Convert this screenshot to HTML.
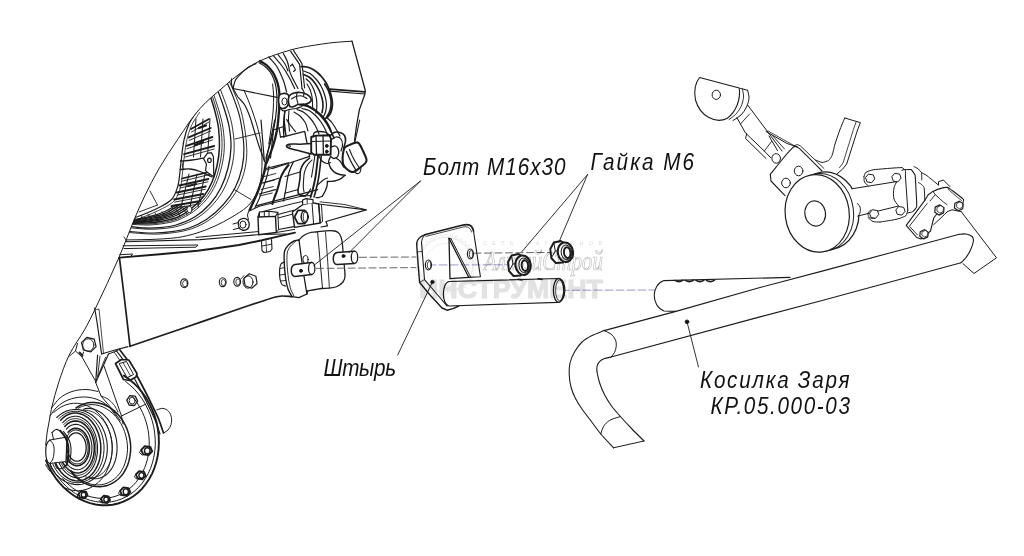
<!DOCTYPE html>
<html lang="ru">
<head>
<meta charset="utf-8">
<title>Косилка Заря КР.05.000-03</title>
<style>
html,body{margin:0;padding:0;background:#fff}
body{width:1024px;height:556px;overflow:hidden}
svg{display:block}
text{font-family:"Liberation Sans","DejaVu Sans",sans-serif}
</style>
</head>
<body>
<svg width="1024" height="556" viewBox="0 0 1024 556" stroke-linecap="round" stroke-linejoin="round">
<defs>
<clipPath id="lens"><path d="M352 41.2 C346.7 41.6 341.3 41.8 336 42.3 C331.2 42.8 326.4 43.3 321.6 44.1 C311.7 45.7 301.7 46.9 292 49.6 C280.7 52.7 269.5 56.5 258.8 61.4 C252 64.5 246.1 69.2 240 73.5 C234.9 77.1 230.2 81.1 225.5 85.2 C216.8 92.8 207.6 99.9 200 108.5 C191.8 117.7 185.3 128.2 178.4 138.4 C171.6 148.4 164.9 158.5 158.8 169 C153.7 177.8 149.1 186.9 144.7 196 C140.9 203.9 137.4 211.9 134 220 C128.9 232.3 124.5 244.8 119.2 257 C111.4 274.8 103.1 292.4 94.7 310 C91.6 316.4 88.5 322.8 85 329 C80 337.8 73.7 345.9 69.2 355 C64.8 364 61.6 373.5 58.5 383 C55.8 391.2 53.7 399.6 51.6 408 C50.7 411.6 50.3 415.3 49.6 419 L46 445 L46 520 L420 520 L420 30 Z"/></clipPath>
<clipPath id="hubclip"><path d="M44 380 L200 380 L200 520 L44 520 Z"/></clipPath>
<clipPath id="flange"><ellipse cx="99.5" cy="436" rx="58.6" ry="70" transform="rotate(-15 99.5 436)"/></clipPath>
</defs>
<rect x="0" y="0" width="1024" height="556" fill="#ffffff"/>
<path d="M352 41.2 C346.7 41.6 341.3 41.8 336 42.3 C331.2 42.8 326.4 43.3 321.6 44.1 C311.7 45.7 301.7 46.9 292 49.6 C280.7 52.7 269.5 56.5 258.8 61.4 C252 64.5 246.1 69.2 240 73.5 C234.9 77.1 230.2 81.1 225.5 85.2 C216.8 92.8 207.6 99.9 200 108.5 C191.8 117.7 185.3 128.2 178.4 138.4 C171.6 148.4 164.9 158.5 158.8 169 C153.7 177.8 149.1 186.9 144.7 196 C140.9 203.9 137.4 211.9 134 220 C128.9 232.3 124.5 244.8 119.2 257 C111.4 274.8 103.1 292.4 94.7 310 C91.6 316.4 88.5 322.8 85 329 C80 337.8 73.7 345.9 69.2 355 C64.8 364 61.6 373.5 58.5 383 C55.8 391.2 53.7 399.6 51.6 408 C50.7 411.6 50.3 415.3 49.6 419" fill="none" stroke="#1c1c1c" stroke-width="1" />
<g clip-path="url(#lens)">
<path d="M209 92 C211 98.5 213.3 105 215 111.6 C216.4 117 217.8 122.5 218.5 128 C219.3 134.5 219.7 141.1 219.4 147.6 C219.2 153.8 218.3 160 217 166 C215.8 171.5 214.2 176.9 212 182 C209.9 186.9 207.3 191.7 204 196 C200.6 200.5 196.4 204.4 192 208 C187.7 211.5 183.1 214.7 178 217 C173.3 219.1 168.1 220 163 221 C158.1 222 153 222.8 148 223 C142 223.3 136 222.7 130 222.5" fill="none" stroke="#1c1c1c" stroke-width="1.5" />
<path d="M210.5 90.7 C212.7 97.3 215 103.9 216.9 110.6 C218.5 116.2 220 121.8 220.8 127.6 C221.7 134.2 222.2 140.9 222 147.6 C221.7 153.9 220.8 160.3 219.4 166.4 C218.1 172.2 216.4 177.9 213.9 183.3 C211.6 188.4 208.8 193.4 205.3 197.8 C201.7 202.3 197.3 206.4 192.7 209.9 C188 213.5 182.9 216.5 177.6 218.8 C172.7 220.8 167.5 221.5 162.3 222.5 C157.4 223.3 152.4 224 147.3 224.1 C141.3 224.2 135.2 223.5 129.1 223.3" fill="none" stroke="#1c1c1c" stroke-width="0.9" />
<path d="M211.9 89.5 C214.2 96.2 216.7 102.9 218.7 109.7 C220.3 115.4 222 121.2 222.9 127.2 C223.9 133.9 224.5 140.8 224.3 147.6 C224.1 154.1 223.1 160.5 221.6 166.8 C220.2 172.9 218.3 178.9 215.7 184.5 C213.2 189.8 210.2 194.9 206.5 199.4 C202.7 204 198.2 208.2 193.3 211.7 C188.3 215.2 182.9 218.2 177.2 220.4 C172.2 222.2 166.9 223 161.7 223.8 C156.8 224.5 151.8 225.1 146.7 225.1 C140.6 225.1 134.5 224.3 128.3 224" fill="none" stroke="#1c1c1c" stroke-width="0.9" />
<path d="M216 86 C218.6 93 221.4 99.9 223.7 107 C225.7 113.3 227.8 119.5 229 126 C230.3 133.1 231.2 140.4 231 147.6 C230.8 154.5 229.7 161.3 228 168 C226.3 174.9 224 181.7 220.8 188 C217.9 193.8 214.3 199.2 210 204 C205.6 208.9 200.6 213.3 195 216.8 C189.1 220.4 182.6 223 176 225 C170.8 226.6 165.4 227.1 160 227.6 C155 228.1 150 228.2 145 228 C138.6 227.7 132.3 226.7 126 226" fill="none" stroke="#1c1c1c" stroke-width="1.3" />
<path d="M218.2 84 C220.9 91 223.8 97.8 226.2 104.9 C228.3 111.2 230.5 117.5 231.8 124 C233.2 131.8 234.3 139.7 234.2 147.6 C234.2 154.5 233.1 161.3 231.5 168 C229.8 174.9 227.5 181.7 224.4 188 C221.4 193.9 217.6 199.4 213.2 204.2 C208.7 209.3 203.6 213.9 197.8 217.5 C192.1 221.1 185.7 223.7 179.2 225.8 C174 227.4 168.5 228 163 228.6 C157.6 229.2 152.2 229.4 146.8 229.2 C139.6 229 132.6 227.9 125.5 227.2" fill="none" stroke="#1c1c1c" stroke-width="0.9" />
<path d="M225 78 C227.9 84.9 231.2 91.6 233.8 98.6 C236.2 105 238.6 111.4 240 118 C242 127.7 243.5 137.7 243.9 147.6 C244.2 154.4 243.5 161.3 242 168 C240.5 174.9 238.2 181.7 235 188 C231.8 194.2 227.7 199.9 223 205 C218.1 210.5 212.5 215.5 206.4 219.6 C201.1 223.2 195.1 225.9 189 228 C183.5 229.9 177.7 230.8 172 231.6 C165.4 232.5 158.7 233.1 152 233 C142.6 232.9 133.3 231.7 124 231" fill="none" stroke="#1c1c1c" stroke-width="1.2" />
<path d="M227 76.2 C230 83.1 233.3 89.8 236 96.8 C238.5 103.1 241 109.5 242.4 116.2 C244.6 126.6 246.2 137.1 246.7 147.6 C247.1 154.4 246.5 161.3 245.1 168 C243.6 174.9 241.4 181.7 238.1 188 C234.9 194.3 230.6 200 225.9 205.2 C220.8 210.8 215.1 215.9 208.9 220.2 C203.7 223.8 197.8 226.5 191.9 228.7 C186.3 230.6 180.5 231.7 174.6 232.5 C167.7 233.5 160.6 234.2 153.5 234.1 C143.5 234 133.6 232.8 123.6 232.1" fill="none" stroke="#1c1c1c" stroke-width="0.9" />
<path d="M243.9 90 C246.6 96.7 249.7 103.2 252 110 C254.9 118.5 257.9 127.1 259.7 136 C261.3 143.9 262 152 262 160 C262.1 168.4 261.7 176.8 260 185 C259 189.7 256.5 193.9 254 198 C252 201.3 249.7 204.5 246.8 207 C242.3 210.9 237.1 213.9 232 217 C226.5 220.3 220.8 223.3 215 226 C209.1 228.7 203.2 231.1 197 233 C190.7 235 184.2 236.6 177.6 237.5 C168.5 238.8 159.2 239.1 150 239.5 C140 239.9 130 239.8 120 240" fill="none" stroke="#1c1c1c" stroke-width="1" />
<path d="M235 139 L260 133" fill="none" stroke="#1c1c1c" stroke-width="0.9" />
<path d="M233.8 189.4 L251 199.5" fill="none" stroke="#1c1c1c" stroke-width="0.9" />
<path d="M197 111 C194.3 115.3 191.1 119.4 189 124 C186.7 129.1 185.2 134.5 184 140 C182.5 147.2 181.9 154.7 181 162 C180.4 166.7 180.1 171.3 179.5 176 C179 179.7 178.8 183.5 177.6 187 C176.2 191.2 174.9 195.7 172 199 C168.8 202.6 164.3 204.8 160 207 C152.7 210.8 145 213.9 137.3 216.8 C134.3 217.9 131.1 218.3 128 219" fill="none" stroke="#1c1c1c" stroke-width="1.2" />
<path d="M199.5 112.5 C196.8 116.8 193.6 120.9 191.5 125.5 C189.2 130.6 187.7 136 186.5 141.5 C185 148.7 184.4 156.2 183.5 163.5 C182.9 168.2 182.6 172.8 182 177.5 C181.5 181.2 181.3 185 180.1 188.5 C178.7 192.7 177.4 197.2 174.5 200.5 C171.3 204.1 166.8 206.3 162.5 208.5 C155.2 212.3 147.5 215.4 139.8 218.3 C136.8 219.4 133.6 219.8 130.5 220.5" fill="none" stroke="#1c1c1c" stroke-width="0.8" />
<path d="M180.5 161 C184.3 160.7 188.2 160.5 192 160 C195.8 159.5 199.5 158.8 203.3 158.2" fill="none" stroke="#1c1c1c" stroke-width="1.3" />
<path d="M180.2 169.5 C183.5 169.3 186.7 168.7 190 169 C193.4 169.3 196.8 170.3 200 171.5 C204.1 173 208 175.2 212 177" fill="none" stroke="#1c1c1c" stroke-width="1.3" />
<path d="M183.5 161.5 C183.1 162.8 182.3 164.1 182.3 165.5 C182.3 166.9 183.1 168.2 183.5 169.5" fill="none" stroke="#1c1c1c" stroke-width="1" />
<path d="M191 129 L209 119" fill="none" stroke="#1c1c1c" stroke-width="1.9" />
<path d="M191.5 132 L209 122" fill="none" stroke="#1c1c1c" stroke-width="0.9" />
<path d="M188.7 137.4 L210.7 128" fill="none" stroke="#1c1c1c" stroke-width="1.9" />
<path d="M189.2 140.4 L210.7 131" fill="none" stroke="#1c1c1c" stroke-width="0.9" />
<path d="M186.4 145.8 L212.4 137" fill="none" stroke="#1c1c1c" stroke-width="1.9" />
<path d="M186.9 148.8 L212.4 140" fill="none" stroke="#1c1c1c" stroke-width="0.9" />
<path d="M184.1 154.2 L214.1 146" fill="none" stroke="#1c1c1c" stroke-width="1.9" />
<path d="M184.6 157.2 L214.1 149" fill="none" stroke="#1c1c1c" stroke-width="0.9" />
<path d="M196 119 L193.5 157" fill="none" stroke="#1c1c1c" stroke-width="1" />
<path d="M203 119 L200.5 157" fill="none" stroke="#1c1c1c" stroke-width="1" />
<path d="M210 119 L207.5 157" fill="none" stroke="#1c1c1c" stroke-width="1" />
<path d="M199 128 L206 125.5" fill="none" stroke="#1c1c1c" stroke-width="2.2" />
<path d="M195 145 L203 142" fill="none" stroke="#1c1c1c" stroke-width="2.2" />
<path d="M182 178.5 L211 171.5" fill="none" stroke="#1c1c1c" stroke-width="1.8" />
<path d="M182.4 181.1 L210.5 174.3" fill="none" stroke="#1c1c1c" stroke-width="0.9" />
<path d="M179.4 185.5 L208.4 179" fill="none" stroke="#1c1c1c" stroke-width="1.8" />
<path d="M179.8 188.1 L207.9 181.8" fill="none" stroke="#1c1c1c" stroke-width="0.9" />
<path d="M176.8 192.5 L205.8 186.5" fill="none" stroke="#1c1c1c" stroke-width="1.8" />
<path d="M177.2 195.1 L205.3 189.3" fill="none" stroke="#1c1c1c" stroke-width="0.9" />
<path d="M174.2 199.5 L203.2 194" fill="none" stroke="#1c1c1c" stroke-width="1.8" />
<path d="M174.6 202.1 L202.7 196.8" fill="none" stroke="#1c1c1c" stroke-width="0.9" />
<path d="M171.6 206 L200.6 201" fill="none" stroke="#1c1c1c" stroke-width="1.8" />
<path d="M172 208.6 L200.1 203.8" fill="none" stroke="#1c1c1c" stroke-width="0.9" />
<path d="M189 174 L181 207" fill="none" stroke="#1c1c1c" stroke-width="1" />
<path d="M197 174 L190 207" fill="none" stroke="#1c1c1c" stroke-width="1" />
<path d="M205 174 L198 207" fill="none" stroke="#1c1c1c" stroke-width="1" />
<path d="M188 186 L196 184" fill="none" stroke="#1c1c1c" stroke-width="2.2" />
<path d="M176 205 C172.3 207.2 168.9 209.8 165 211.5 C160.2 213.6 155.1 215.2 150 216.5 C142.7 218.4 135.3 219.5 128 221" fill="none" stroke="#1c1c1c" stroke-width="1.3" />
<path d="M178.8 205.4 C174.9 207.7 171.3 210.5 167.2 212.3 C162.3 214.4 157.2 216 152 217.2 C144.2 219.1 136.3 220.1 128.4 221.6" fill="none" stroke="#1c1c1c" stroke-width="1.3" />
<path d="M181.6 205.8 C177.5 208.2 173.7 211.2 169.4 213.1 C164.5 215.3 159.2 216.7 154 217.9 C145.7 219.8 137.2 220.8 128.8 222.2" fill="none" stroke="#1c1c1c" stroke-width="1.3" />
<path d="M184.4 206.2 C180.1 208.8 176.2 211.9 171.6 213.9 C166.6 216.1 161.3 217.5 156 218.6 C147.2 220.5 138.1 221.4 129.2 222.8" fill="none" stroke="#1c1c1c" stroke-width="1.3" />
<path d="M187.2 206.6 C182.7 209.3 178.6 212.6 173.8 214.7 C168.8 216.9 163.4 218.2 158 219.3 C148.6 221.1 139.1 222 129.6 223.4" fill="none" stroke="#1c1c1c" stroke-width="1.3" />
<path d="M190 207 C185.3 209.8 181 213.3 176 215.5 C170.9 217.7 165.4 219 160 220 C150.1 221.8 140 222.7 130 224" fill="none" stroke="#1c1c1c" stroke-width="1.3" />
<path d="M134 216.5 L138 223" fill="none" stroke="#1c1c1c" stroke-width="0.9" />
<path d="M141 215.3 L145 221.8" fill="none" stroke="#1c1c1c" stroke-width="0.9" />
<path d="M148 214.1 L152 220.6" fill="none" stroke="#1c1c1c" stroke-width="0.9" />
<path d="M155 212.9 L159 219.4" fill="none" stroke="#1c1c1c" stroke-width="0.9" />
<path d="M162 211.7 L166 218.2" fill="none" stroke="#1c1c1c" stroke-width="0.9" />
<path d="M169 210.6 L173 217.1" fill="none" stroke="#1c1c1c" stroke-width="0.9" />
<path d="M176 209.4 L180 215.9" fill="none" stroke="#1c1c1c" stroke-width="0.9" />
<path d="M183 208.2 L187 214.7" fill="none" stroke="#1c1c1c" stroke-width="0.9" />
<path d="M150 191 L157.5 205" fill="none" stroke="#1c1c1c" stroke-width="0.9" />
<path d="M157.5 205 L139 212" fill="none" stroke="#1c1c1c" stroke-width="0.9" />
</g>
<path d="M203.5 158.6 L207.3 153.4 L211.3 152.6 L213.4 156.5 L213.8 176.8 L209 173.6 L205.5 170.6 L206.5 164Z" fill="#fff" stroke="#1c1c1c" stroke-width="1.2" />
<ellipse cx="209.4" cy="160.3" rx="1.8" ry="2.2" fill="none" stroke="#1c1c1c" stroke-width="1.2" />
<ellipse cx="189.5" cy="209.5" rx="2.6" ry="3.2" fill="#fff" stroke="#1c1c1c" stroke-width="1" />
<path d="M352 41.2 L365.3 90.5 L364.6 95 L359.4 109.6 L356.5 126 L354.5 141" fill="none" stroke="#1c1c1c" stroke-width="1.3" />
<path d="M329.5 89.2 L365 91.8" fill="none" stroke="#1c1c1c" stroke-width="1.7" />
<path d="M329.8 91.2 L364.8 94" fill="none" stroke="#1c1c1c" stroke-width="1.2" />
<path d="M290.7 51.3 L299.6 64.3 L302 88.5" fill="none" stroke="#1c1c1c" stroke-width="1.2" />
<path d="M293.5 50.4 L302 63.6 L304.6 88" fill="none" stroke="#1c1c1c" stroke-width="1.1" />
<path d="M301.2 66.7 C303.1 66.8 305.1 66.5 307 67 C309.5 67.6 311.9 68.6 314 70 C316.4 71.5 318.5 73.5 320.5 75.5 C322.4 77.5 324 79.7 325.5 82 C326.9 84.2 328 86.6 329 89 C329.8 90.9 330.5 93 331 95 C331.6 97.3 332.1 99.6 332.3 102 C332.5 104 332.3 106 332 108 C331.7 109.9 331.2 111.8 330.3 113.5 C329.5 115.1 328.1 116.3 327 117.7" fill="none" stroke="#1c1c1c" stroke-width="1.8" />
<path d="M303.6 71 C305.7 71.8 308.1 72.3 310 73.5 C312.3 75 314.2 76.9 316 79 C318.1 81.5 320 84.1 321.5 87 C323 89.8 324.1 92.9 325 96 C325.8 98.8 326.4 101.8 326.5 104.7 C326.6 107.2 326.1 109.6 325.5 112 C325.1 113.6 324.2 115 323.5 116.5" fill="none" stroke="#1c1c1c" stroke-width="1.2" />
<path d="M303.6 74.5 C305.4 75.3 307.4 75.8 309 77 C311.1 78.5 312.9 80.4 314.5 82.5 C316.3 84.8 317.7 87.4 319 90 C320.2 92.6 321.3 95.2 322 98 C322.7 100.6 323 103.3 323 106 C323 108.3 322.3 110.5 322 112.8" fill="none" stroke="#1c1c1c" stroke-width="1.6" />
<path d="M306 78.8 C307.3 80 308.9 81 310 82.5 C311.6 84.8 313 87.4 314 90 C315.1 92.9 316 95.9 316.5 99 C317 102 316.9 105 316.8 108 C316.7 109.7 316.1 111.3 315.8 113" fill="none" stroke="#1c1c1c" stroke-width="1.2" />
<path d="M307 84 C308 85.8 309.3 87.5 310 89.5 C311 92.2 311.8 95.1 312.2 98 C312.6 101 312.5 104 312.6 107" fill="none" stroke="#1c1c1c" stroke-width="1.1" />
<path d="M231.6 78.8 C231.6 80.5 231.3 82.3 231.5 84 C231.7 85.6 232.5 87 233 88.5" fill="none" stroke="#1c1c1c" stroke-width="1.2" />
<path d="M233 88.5 C233.8 85.7 234.1 82.6 235.5 80 C236.7 77.7 238.7 75.9 240.5 74 C242.2 72.2 244 70.5 246 69 C247.6 67.8 249.3 66.8 251 65.9 C252.6 65 254.3 64.4 256 63.6" fill="none" stroke="#1c1c1c" stroke-width="1.2" />
<path d="M233 88.5 L277 97.4" fill="none" stroke="#1c1c1c" stroke-width="1.2" />
<path d="M259 62.7 C261 64 263.2 65 265 66.5 C267.1 68.2 269 70.2 270.5 72.4 C272 74.6 273.1 77 274 79.5 C274.9 81.9 275.6 84.5 276 87 C276.6 90.2 276.7 93.4 277 96.6" fill="none" stroke="#1c1c1c" stroke-width="1.2" />
<path d="M233 88.5 C234.7 91.3 236.1 94.3 238 97 C240 99.7 242.9 101.8 244.6 104.7 C246.9 108.5 248.4 112.8 250 117 C251.6 121.2 252.7 125.7 254 130 C255.7 135.3 257.2 140.7 259 146 C260.8 151.4 262.9 156.7 264.8 162" fill="none" stroke="#1c1c1c" stroke-width="1.2" />
<path d="M260 61 C262.3 62.5 264.9 63.7 267 65.5 C269.3 67.5 271.2 69.9 272.9 72.4 C274.4 74.7 275.5 77.4 276.5 80 C277.4 82.3 278 84.6 278.5 87 C279.1 90 279.4 93 279.6 96 C279.7 98.9 279.6 101.8 279.4 104.7 C279.2 108.8 278.9 112.9 278.5 117 C278.1 121.3 277.8 125.7 277 130 C276 135.4 274.7 140.8 273 146 C271.2 151.8 268.7 157.3 266.5 163" fill="none" stroke="#1c1c1c" stroke-width="2.3" />
<path d="M277 97.4 C276.9 100.9 276.9 104.5 276.6 108 C276.2 112.7 275.7 117.4 275 122 C274.2 127 273.2 132.1 272 137 C270.2 144.1 268 151 266 158" fill="none" stroke="#1c1c1c" stroke-width="1.2" />
<path d="M268.8 57 C271.4 60 274.4 62.6 276.5 66 C279.3 70.5 281.4 75.5 283.4 80.5 C284.8 84.1 285.5 88 286.6 91.8" fill="none" stroke="#1c1c1c" stroke-width="1.2" />
<path d="M273.7 56.2 C276.5 59.5 279.5 62.6 282 66 C284.6 69.5 286.9 73.2 289 77 C291.1 80.7 292.8 84.7 294.7 88.5" fill="none" stroke="#1c1c1c" stroke-width="1.2" />
<path d="M283.4 53.4 C284.8 56.3 286.5 59 287.5 62 C288.7 65.4 288.8 69 290 72.4 C291 75.4 292.6 78.2 294 81 C295.3 83.5 296.7 86 298 88.5" fill="none" stroke="#1c1c1c" stroke-width="1.2" />
<path d="M278 54.6 C280.3 57.7 283 60.7 285 64 C286.3 66.2 287 68.7 288 71" fill="none" stroke="#1c1c1c" stroke-width="1.1" />
<path d="M290.5 66 L292.5 64 L295.5 70 L293.5 71.5" fill="none" stroke="#1c1c1c" stroke-width="1.1" />
<path d="M279 96 C279.4 94.5 281.4 93.8 283 93.5 C284.7 93.2 286.8 93.3 288 94.5 C289.3 95.9 289.1 98.1 289 100 C288.9 102.1 288.7 104.3 287.5 106 C286.5 107.4 284.7 108.4 283 108.5 C281.7 108.6 279.9 107.8 279.5 106.5 C278.4 103.2 278.1 99.4 279 96Z" fill="#fff" stroke="#1c1c1c" stroke-width="1.6" />
<ellipse cx="284.5" cy="101.5" rx="2.6" ry="3.6" fill="none" stroke="#1c1c1c" stroke-width="1" />
<path d="M289 96.5 C289.8 94.6 292.1 93.6 294 93 C296.2 92.3 298.7 92.3 301 92.5 C302.7 92.6 304.4 93.2 306 94 C307.5 94.7 309 95.6 310 97 C310.8 98.1 311.7 99.8 311 101 C310 102.7 307.9 103.5 306 104 C303.4 104.7 300.6 103.9 298 104.5 C295.9 105 294.2 106.9 292 107 C290.8 107.1 289.3 106.2 289 105 C288.2 102.3 287.9 99.1 289 96.5Z" fill="#fff" stroke="#1c1c1c" stroke-width="1.6" />
<path d="M291.5 99 C293 98.2 294.4 97 296 96.5 C297.9 95.9 300 95.6 302 96 C303.8 96.3 305.3 97.7 307 98.5" fill="none" stroke="#1c1c1c" stroke-width="1.1" />
<path d="M297 92.8 C296.8 94.2 296.4 95.6 296.5 97 C296.7 99.5 297.5 101.9 298 104.3" fill="none" stroke="#1c1c1c" stroke-width="1.1" />
<path d="M302 88.5 C302.7 89.7 303.7 90.7 304 92 C304.3 93.3 303.7 94.7 303.5 96" fill="none" stroke="#1c1c1c" stroke-width="1.1" />
<path d="M306 104 C307.3 105 308.5 106.2 310 107 C311.2 107.7 312.7 108 314 108.5" fill="none" stroke="#1c1c1c" stroke-width="1.2" />
<path d="M280 108.5 C281.3 109.3 282.4 110.8 284 111 C285.7 111.2 287.3 109.9 289 109.5 C291.3 109 293.7 109 296 108.5 C298.1 108 300 107.2 302 106.5" fill="none" stroke="#1c1c1c" stroke-width="1.2" />
<path d="M285 111 C284.6 114 284.1 117 283.8 120 C283.5 123.3 283.4 126.7 283.4 130 C283.4 132.5 283.8 135 284 137.5" fill="none" stroke="#1c1c1c" stroke-width="1.2" />
<path d="M289 110.5 C288.8 113.7 288.4 116.8 288.5 120 C288.6 123.7 289.2 127.3 289.5 131" fill="none" stroke="#1c1c1c" stroke-width="1.1" />
<path d="M299.6 104.7 C302.4 105.3 305.4 105.4 308 106.5 C310.9 107.7 313.5 109.5 316 111.5 C318.4 113.4 320.5 115.7 322.5 118 C324.2 119.9 325.7 121.9 327 124 C328.5 126.4 329.7 129 331 131.5 C332.1 133.6 333 135.8 334 138" fill="none" stroke="#1c1c1c" stroke-width="1.6" />
<path d="M302 108.5 C304.3 109.2 306.8 109.4 309 110.5 C311.4 111.8 313.5 113.6 315.5 115.5 C317.5 117.5 319.4 119.7 321 122 C322.7 124.5 324.2 127.2 325.5 130 C326.7 132.6 327.6 135.3 328.6 138" fill="none" stroke="#1c1c1c" stroke-width="1.2" />
<path d="M297 109.5 C299.3 110.5 301.9 111.1 304 112.5 C306.3 114 308.2 116 310 118 C311.9 120.2 313.6 122.5 315 125 C316.6 127.9 317.7 131 319 134" fill="none" stroke="#1c1c1c" stroke-width="1.2" />
<path d="M294 112 C296 113.3 298.3 114.3 300 116 C302.1 118.1 304.1 120.4 305.5 123 C306.8 125.5 307.2 128.3 308 131" fill="none" stroke="#1c1c1c" stroke-width="1.1" />
<path d="M327 117.7 C328.5 119.1 330.2 120.4 331.5 122 C333.2 124.2 334.6 126.6 336 129 C337.4 131.3 338.7 133.7 340 136" fill="none" stroke="#1c1c1c" stroke-width="1.2" />
<path d="M261 120 L264.3 160.5" fill="none" stroke="#1c1c1c" stroke-width="1.2" />
<path d="M274.8 120 L265.9 161" fill="none" stroke="#1c1c1c" stroke-width="1.2" />
<path d="M280.5 137 L286 136.2 L304.7 131.3 L309.6 156.4 L288 163.5 L272.4 168.5" fill="none" stroke="#1c1c1c" stroke-width="1.3" />
<path d="M280.5 137 L279 128 L284 126.5 L286 136.2" fill="none" stroke="#1c1c1c" stroke-width="1.2" />
<path d="M279 128 L273.5 130 L270.5 158" fill="none" stroke="#1c1c1c" stroke-width="1.2" />
<path d="M311.2 143.6 C307.5 143.8 303.7 144.1 300 144.2 C296.3 144.3 292.6 143.7 289 144.2 C287.9 144.4 286.4 145.1 286.4 146.2 C286.4 147.3 288 147.8 289 148.2 C292.6 149.5 296.3 150 300 151 C303.7 152 307.5 153 311.2 154" fill="#fff" stroke="#1c1c1c" stroke-width="1.5" />
<ellipse cx="289" cy="146.2" rx="1.3" ry="1.3" fill="none" stroke="#1c1c1c" stroke-width="0.9" />
<path d="M311.2 137 L316 135.6 L329.5 135.2 L331 139 L330.6 154.8 L314 154.8 L311.2 152.5Z" fill="#fff" stroke="#1c1c1c" stroke-width="1.9" />
<path d="M316 135.6 L316.5 154.5" fill="none" stroke="#1c1c1c" stroke-width="1.3" />
<path d="M323 135.4 L323.4 154.6" fill="none" stroke="#1c1c1c" stroke-width="1.3" />
<path d="M311.5 141.5 L330.6 141" fill="none" stroke="#1c1c1c" stroke-width="1.2" />
<ellipse cx="326.8" cy="145.9" rx="1.3" ry="1.6" fill="#111" stroke="#1c1c1c" stroke-width="1" />
<ellipse cx="326.8" cy="151.6" rx="1.3" ry="1.6" fill="#111" stroke="#1c1c1c" stroke-width="1" />
<path d="M313 137 C313.5 135.5 313.3 133.5 314.5 132.5 C316 131.3 318.1 131.5 320 131.5 C322 131.5 324.1 131.8 326 132.5 C327.4 133 328.3 134.3 329.5 135.2" fill="none" stroke="#1c1c1c" stroke-width="1.3" />
<path d="M330 136 C331.3 134.8 332.3 133.1 334 132.5 C335.9 131.8 338.1 132 340 132.5 C341.7 133 343.5 134 344.5 135.5 C345.5 137.1 345.6 139.1 345.5 141 C345.3 143.5 344.2 145.9 343.6 148.3" fill="none" stroke="#1c1c1c" stroke-width="1.6" />
<path d="M331 140 C332.7 139 334.1 137.2 336 137 C337.8 136.8 339.9 137.6 341 139 C342.3 140.6 342.5 142.9 342.5 145 C342.5 147.1 341.5 149 341 151" fill="none" stroke="#1c1c1c" stroke-width="1.2" />
<path d="M331 147 C332.5 146.7 334.1 145.4 335.5 146 C337 146.6 338.1 148.4 338.5 150 C339 151.9 338.9 154.2 338 156 C337.3 157.4 335.6 158.4 334 158.5 C332.7 158.6 331.7 157.2 330.6 156.5" fill="none" stroke="#1c1c1c" stroke-width="1.3" />
<path d="M336 158 C337.3 159 338.9 159.7 340 161 C341.5 162.8 342.4 165 343.6 167" fill="none" stroke="#1c1c1c" stroke-width="1.2" />
<path d="M343.6 150.5 C343.9 149.4 344.1 148 345 147.3 C346.7 145.9 348.9 145.2 351 144.3 C352.8 143.5 354.6 142.5 356.5 142.4 C357.5 142.3 358.7 143 359.3 143.8 C360.9 146 361.9 148.6 363 151 C364.2 153.6 365.7 156.2 366.4 159 C366.7 160.2 366.5 161.5 365.8 162.5 C364.4 164.4 362.3 165.7 360.5 167.2 C358.6 168.7 356.7 170.4 354.5 171.5 C353.4 172 352.1 172.2 351 171.8 C349.3 171.2 347.8 170 346.5 168.8 C345.3 167.7 344 166.5 343.4 165 C342.6 162.8 342.6 160.3 342.6 158 C342.6 155.5 343 153 343.6 150.5Z" fill="#fff" stroke="#1c1c1c" stroke-width="2.1" />
<path d="M346.5 151.5 C347.3 153.3 348 155.2 348.8 157 C349.8 159.2 350.9 161.4 352 163.5 C353.1 165.5 354.3 167.5 355.5 169.5" fill="none" stroke="#1c1c1c" stroke-width="1.3" />
<path d="M349.5 149.5 C350.3 151.5 351.1 153.5 352 155.5 C353.1 157.7 354.2 159.9 355.5 162 C356.6 163.8 357.8 165.5 359 167.2" fill="none" stroke="#1c1c1c" stroke-width="1.1" />
<path d="M355 171.8 C355.7 172.4 356.1 173.5 357 173.6 C358.1 173.7 359.4 173.1 360 172.2 C360.8 171 360.7 169.4 361 168" fill="none" stroke="#1c1c1c" stroke-width="1.1" />
<path d="M359.7 120 L354.9 141.8" fill="none" stroke="#1c1c1c" stroke-width="1.1" />
<path d="M330.6 168 C331.7 169.3 332.6 170.8 334 171.8 C335.5 172.9 337.2 173.7 339 174.3 C340.9 174.9 343 175 345 175.3" fill="none" stroke="#1c1c1c" stroke-width="1.5" />
<path d="M345 175.3 C343.7 176.4 342.5 177.7 341 178.6 C339.5 179.5 337.7 180.1 336 180.6 C334.4 181.1 332.7 181.2 331 181.4 C329.8 181.5 328.6 181.5 327.4 181.5" fill="none" stroke="#1c1c1c" stroke-width="1.3" />
<path d="M327.4 181.5 C327.3 183 327.3 184.5 327 186 C326.6 187.7 325.9 189.4 325.2 191 C324.4 192.7 323.4 194.3 322.5 196" fill="none" stroke="#1c1c1c" stroke-width="1.3" />
<path d="M317.7 184.7 C318.8 183.8 319.9 182.9 321 182 C322 181.2 322.9 180.2 324 179.5 C325.1 178.8 326.3 178.5 327.4 178" fill="none" stroke="#1c1c1c" stroke-width="1.2" />
<path d="M322.5 196 C321.5 196.4 320.6 197 319.5 197.3 C318.4 197.6 317.2 197.6 316 197.7" fill="none" stroke="#1c1c1c" stroke-width="1.2" />
<path d="M330.6 156.5 C329.9 158.3 328.6 160 328.6 162 C328.6 164.1 329.9 166 330.6 168" fill="none" stroke="#1c1c1c" stroke-width="1.3" />
<path d="M319 156 C320 157.7 320.6 159.7 322 161 C323.4 162.3 325.2 163.2 327 163.5 C328.2 163.7 329.3 162.8 330.5 162.5" fill="none" stroke="#1c1c1c" stroke-width="1.2" />
<path d="M318.2 155 C317.8 158.3 317.4 161.7 317 165 C316.5 169.3 316.1 173.7 315.3 178 C314.6 182 313.6 186 312.6 190 C312 192.4 311.3 194.7 310.6 197" fill="none" stroke="#1c1c1c" stroke-width="1.9" />
<path d="M321.2 156 C320.9 159.3 320.6 162.7 320.2 166 C319.7 170.3 319.2 174.7 318.4 179 C317.8 182.7 316.9 186.4 316 190 C315.4 192.4 314.7 194.7 314 197" fill="none" stroke="#1c1c1c" stroke-width="1.6" />
<path d="M315 155 C314.5 158.3 314 161.7 313.5 165 C312.9 169 312.2 173 311.5 177" fill="none" stroke="#1c1c1c" stroke-width="1.1" />
<path d="M288.5 165 C287 167 285.3 168.9 284 171 C282.6 173.2 281.4 175.6 280.5 178 C279.7 180.2 279.4 182.5 278.8 184.7 C278.1 187.1 277.4 189.6 276.6 192 C275.9 194 275 196 274.3 198 C273.6 200 273 202 272.4 204" fill="none" stroke="#1c1c1c" stroke-width="2.1" />
<path d="M293.4 162 C292.4 164 291.3 165.9 290.5 168 C289.6 170.3 288.8 172.6 288.2 175 C287.6 177.1 287.4 179.3 287 181.5 C286.5 184.3 286.2 187.2 285.7 190 C285.4 192 284.9 194 284.5 196 C284.2 197.7 284 199.3 283.7 201" fill="none" stroke="#1c1c1c" stroke-width="1.2" />
<path d="M309.6 158 C307.7 159.7 305.5 161 304 163 C302.4 165.1 301.3 167.5 300.6 170 C299.9 172.6 300.3 175.3 300 178 C299.8 180.3 299.4 182.7 299 185 C298.7 187 297.9 189 298 191 C298 192.2 298.3 193.8 299.3 194.5 C300.8 195.6 302.9 195.5 304.7 196" fill="none" stroke="#1c1c1c" stroke-width="1.6" />
<path d="M312 160 C310.5 161.7 308.7 163.1 307.5 165 C306.2 167.2 305.1 169.5 304.5 172 C303.8 174.6 303.8 177.3 303.6 180 C303.4 182.3 303.2 184.7 303.3 187 C303.4 188.7 303.8 190.3 304 192" fill="none" stroke="#1c1c1c" stroke-width="1.1" />
<path d="M304.7 196 C305.8 195.2 307.1 194.6 308 193.5 C309.1 192.2 309.7 190.5 310.5 189" fill="none" stroke="#1c1c1c" stroke-width="1.2" />
<path d="M265.9 163 C265.4 166 265 169 264.3 172 C263.6 175.1 262.5 178 261.5 181 C260.6 183.7 259.8 186.4 258.8 189 C257.9 191.4 257 193.7 256 196 C254.9 198.5 253.7 201 252.6 203.5 C251.6 205.7 250.7 207.8 249.7 210" fill="none" stroke="#1c1c1c" stroke-width="2.4" />
<path d="M269 166 C268.3 169.3 267.9 172.7 267 176 C266 179.7 264.7 183.4 263.5 187 C262.2 190.7 261 194.4 259.5 198 C258.2 201.2 256.5 204.3 255 207.5" fill="none" stroke="#1c1c1c" stroke-width="1.1" />
<path d="M265.9 168.5 L288.5 162.8" fill="none" stroke="#1c1c1c" stroke-width="1.2" />
<path d="M262.7 183 L278.8 178.2" fill="none" stroke="#1c1c1c" stroke-width="1.2" />
<path d="M285 176.5 L300 172" fill="none" stroke="#1c1c1c" stroke-width="1.1" />
<path d="M256 205.8 L272 201.6 L298 194.8 L317.7 189.6" fill="none" stroke="#1c1c1c" stroke-width="1.2" />
<path d="M259.3 194 L275.5 189.6" fill="none" stroke="#1c1c1c" stroke-width="1.1" />
<path d="M284.8 193.2 L298.3 189.5" fill="none" stroke="#1c1c1c" stroke-width="1.1" />
<path d="M126 241.8 L200 239.6 L232 237 L260 234.5 L286.5 234" fill="none" stroke="#1c1c1c" stroke-width="1.1" />
<path d="M196 237.4 L225 234.6 L258 231.6" fill="none" stroke="#1c1c1c" stroke-width="1" />
<path d="M276.3 232.5 L294.6 229.4" fill="none" stroke="#1c1c1c" stroke-width="1" />
<path d="M123 245.8 L198 245 L196 247.2 L124 248.6" fill="none" stroke="#1c1c1c" stroke-width="1" />
<path d="M119.7 254.7 L132.6 254 L131 256.3" fill="none" stroke="#1c1c1c" stroke-width="1" />
<path d="M124 237 L127 241.5" fill="none" stroke="#1c1c1c" stroke-width="0.9" />
<path d="M238.5 221.5 C238.8 220.4 239.9 219.5 241 219 C242.4 218.4 244.1 218.1 245.5 218.6 C246.8 219 248 220.2 248.6 221.5 C249.3 223 249.4 224.9 249 226.5 C248.7 227.8 247.7 229 246.5 229.6 C245.2 230.3 243.5 230.4 242 230 C240.7 229.6 239.5 228.7 239 227.5 C238.2 225.6 238 223.5 238.5 221.5Z" fill="#fff" stroke="#1c1c1c" stroke-width="1.3" />
<ellipse cx="243" cy="224.6" rx="3" ry="3.6" fill="none" stroke="#1c1c1c" stroke-width="1" />
<path d="M233 224 L238.5 222.5" fill="none" stroke="#1c1c1c" stroke-width="1" />
<path d="M233.5 229.5 L239.5 228" fill="none" stroke="#1c1c1c" stroke-width="1" />
<path d="M249 211 C248.5 212.3 247.6 213.6 247.5 215 C247.4 216.5 248.2 218 248.5 219.5" fill="none" stroke="#1c1c1c" stroke-width="1" />
<path d="M249 211 L260 206 L300 196.5 L310 195.5" fill="none" stroke="#1c1c1c" stroke-width="1.1" />
<path d="M258 217 L275.5 216.4 L276.3 232.5 L258.7 234.7Z" fill="#fff" stroke="#1c1c1c" stroke-width="1.4" />
<path d="M258 217 L259.4 212 L269 211.2 L277.8 212.4 L275.5 216.4" fill="none" stroke="#1c1c1c" stroke-width="1.1" />
<path d="M277.8 212.4 L278.6 229.5 L276.3 232.5" fill="none" stroke="#1c1c1c" stroke-width="1" />
<path d="M259.6 212 L259.4 216.8" fill="none" stroke="#1c1c1c" stroke-width="1" />
<path d="M264.3 211.6 L264.3 216.6" fill="none" stroke="#1c1c1c" stroke-width="1" />
<path d="M269 211.2 L269 216.5" fill="none" stroke="#1c1c1c" stroke-width="1" />
<path d="M277.8 214.5 L293.8 210.2" fill="none" stroke="#1c1c1c" stroke-width="1.1" />
<path d="M278.2 218 L293 214" fill="none" stroke="#1c1c1c" stroke-width="1" />
<path d="M278.6 229.5 L293.8 226.6" fill="none" stroke="#1c1c1c" stroke-width="1.1" />
<path d="M262 211.8 L293 203.6 L303 201.4" fill="none" stroke="#1c1c1c" stroke-width="1" />
<path d="M292.4 212 L294.6 227.4 L320.2 223 L318.7 204 L312 202.6 L303 204.5Z" fill="#fff" stroke="#1c1c1c" stroke-width="1.4" />
<path d="M308.3 217 L304.8 223.7 L297.9 223.7 L294.5 217 L297.9 210.3 L304.8 210.3Z" fill="#fff" stroke="#1c1c1c" stroke-width="1.7" />
<ellipse cx="304.6" cy="216.8" rx="3.4" ry="5.8" fill="#fff" stroke="#1c1c1c" stroke-width="1.4" />
<ellipse cx="305.4" cy="216.8" rx="2.2" ry="4.6" fill="none" stroke="#1c1c1c" stroke-width="0.9" />
<path d="M312 202.6 L313.6 224" fill="none" stroke="#1c1c1c" stroke-width="1" />
<path d="M302.6 204.4 L302.6 200 L306 198.6 L313 199.6 L313 203" fill="#fff" stroke="#1c1c1c" stroke-width="1.2" />
<path d="M307.2 199 L307.2 203.6" fill="none" stroke="#1c1c1c" stroke-width="0.9" />
<path d="M318.7 204 L320.2 223 L322.5 221.6 L321.5 205" fill="none" stroke="#1c1c1c" stroke-width="1" />
<path d="M318.7 204 L366.3 209.8 L326 221.5 L327.5 225.9 L321 227" fill="none" stroke="#1c1c1c" stroke-width="1.2" />
<path d="M366.3 209.8 L345 204.6 L320 201.8" fill="none" stroke="#1c1c1c" stroke-width="0.9" />
<path d="M119.4 257.6 L160 254.2 L197.4 250.7 L220 247.8 L239 245 L262 240.3 L283 235.4 L295 232.6" fill="none" stroke="#1c1c1c" stroke-width="1.9" />
<path d="M119.4 257.6 L124 295 L128 329 L130 346.3" fill="none" stroke="#1c1c1c" stroke-width="1.7" />
<path d="M130 346.3 C140 342.9 170 332.7 180 329.3 C190 325.9 220 315.4 230 312 C236.4 309.8 255.6 303.3 262 301.2 C264.5 300.4 272 297.9 274.5 297.2 C276 296.8 280.5 296.1 282 296 C284 295.9 290 296.5 292 296.6" fill="none" stroke="#1c1c1c" stroke-width="1.7" />
<ellipse cx="184.3" cy="283.3" rx="3.6" ry="4.4" fill="none" stroke="#1c1c1c" stroke-width="1.1" />
<ellipse cx="185" cy="283.6" rx="2.4" ry="3.2" fill="none" stroke="#1c1c1c" stroke-width="0.8" />
<ellipse cx="222.7" cy="282.2" rx="3.4" ry="4.4" fill="none" stroke="#1c1c1c" stroke-width="1.1" />
<ellipse cx="223.4" cy="282.5" rx="2.2" ry="3.1" fill="none" stroke="#1c1c1c" stroke-width="0.8" />
<ellipse cx="237.2" cy="281.8" rx="3.4" ry="4.4" fill="none" stroke="#1c1c1c" stroke-width="1.1" />
<ellipse cx="238" cy="282" rx="2.2" ry="3.1" fill="none" stroke="#1c1c1c" stroke-width="0.8" />
<path d="M257.1 283.5 L251.7 288.2 L245.1 285.7 L243.9 278.5 L249.3 273.8 L255.9 276.3Z" fill="#fff" stroke="#1c1c1c" stroke-width="1.2" />
<ellipse cx="248" cy="282" rx="5" ry="6.2" fill="none" stroke="#1c1c1c" stroke-width="1" />
<path d="M241.5 278.5 L244 275.5" fill="none" stroke="#1c1c1c" stroke-width="0.9" />
<path d="M261.5 241 L262 250.5 L264 252.5 L270 251.5 L272 249 L271.5 239.5" fill="none" stroke="#1c1c1c" stroke-width="1.1" />
<path d="M262 246 L271.6 244.2" fill="none" stroke="#1c1c1c" stroke-width="0.9" />
<path d="M266 241 L266.5 252" fill="none" stroke="#1c1c1c" stroke-width="0.8" />
<path d="M315.7 232 C318.1 231.7 323.6 230.9 326 230.8 C328.1 230.7 333 230.5 335 231 C336.2 231.3 338.8 233 339.5 234 C340.5 235.4 341.7 239.3 342 241 C342.7 244.9 343.2 254 343.5 258 C343.9 262.2 345.1 271.8 345 276 C345 277.5 343.9 280.8 343 282 C341.9 283.4 338.6 285.8 337 286.5 C335.3 287.3 330.9 288 329 288.2 C327.3 288.4 323.2 288.3 321.5 288.5 C318.1 288.9 310.4 290.4 307 291" fill="none" stroke="#1c1c1c" stroke-width="1.3" />
<path d="M317.6 232 L320 260 L322.5 288.3" fill="none" stroke="#1c1c1c" stroke-width="1" />
<path d="M325.5 232 L327.6 260 L329.4 288" fill="none" stroke="#1c1c1c" stroke-width="0.9" />
<path d="M299 240 C297.7 240.3 295.2 240.4 294 241 C292.4 241.8 289.7 243.7 288.5 245 C287.2 246.4 285.1 249.1 284.6 251 C283.9 253.8 284.1 259.1 284.2 262 C284.4 266.3 285 273.8 285.6 278 C286 281 287 286.2 288 289 C288.7 291.2 290.9 294.6 292 296.6" fill="none" stroke="#1c1c1c" stroke-width="1.4" />
<path d="M299 240 C299.3 242.4 300.3 249.6 300.6 252 C301.1 255.6 302.5 266.4 303 270 C303.5 273.2 305.1 282.8 305.6 286 C305.9 287.6 306.6 292.4 306.9 294" fill="none" stroke="#1c1c1c" stroke-width="1.3" />
<path d="M292 296.6 L299 297.6 L306.9 294" fill="none" stroke="#1c1c1c" stroke-width="1.3" />
<path d="M296 241 C294.6 242.3 291.8 244.5 290.6 246 C289.5 247.4 287.8 250.2 287.4 252 C286.8 254.9 286.9 260.1 287 263 C287.2 267.3 287.9 274.8 288.5 279 C288.9 282 290.1 287.1 291 290 C291.6 291.7 293.2 294.4 294 296" fill="none" stroke="#1c1c1c" stroke-width="0.9" />
<path d="M299 240 C300.3 238.7 301.5 237.1 303 236 C304.8 234.7 306.9 233.7 309 233 C311.2 232.3 313.5 232.3 315.7 232" fill="none" stroke="#1c1c1c" stroke-width="1.2" />
<path d="M306.9 294 L308 290.8" fill="none" stroke="#1c1c1c" stroke-width="1" />
<path d="M284.4 262 C283.3 262.7 281.7 262.9 281 264 C279.9 265.8 279.7 268 279.6 270 C279.4 273 279.5 276 280 279 C280.3 280.9 280.8 283 282 284.5 C282.8 285.5 284.4 285.5 285.6 286" fill="none" stroke="#1c1c1c" stroke-width="1.2" />
<path d="M280 268.5 L284.6 267.6" fill="none" stroke="#1c1c1c" stroke-width="0.9" />
<path d="M279.8 275 L285 274.3" fill="none" stroke="#1c1c1c" stroke-width="0.9" />
<path d="M280.6 281 L285.6 280.5" fill="none" stroke="#1c1c1c" stroke-width="0.9" />
<ellipse cx="305.5" cy="259.5" rx="2.6" ry="4" fill="none" stroke="#1c1c1c" stroke-width="1" />
<path d="M311.7 262.6 L295 264.4 C290 265.5 290 275.5 295 276.4 L311.7 274.4 Z" fill="#fff" stroke="#1c1c1c" stroke-width="1.5" />
<ellipse cx="311.7" cy="268.5" rx="3.2" ry="6" fill="#fff" stroke="#1c1c1c" stroke-width="1.3" />
<ellipse cx="301" cy="270.8" rx="1.5" ry="1.5" fill="#111" stroke="#1c1c1c" stroke-width="1" />
<path d="M354.5 251.2 L337 252.6 C332 253.7 332 263.7 337 264.6 L354.5 263.4 Z" fill="#fff" stroke="#1c1c1c" stroke-width="1.5" />
<ellipse cx="354.5" cy="257.3" rx="3.2" ry="6.1" fill="#fff" stroke="#1c1c1c" stroke-width="1.3" />
<ellipse cx="343.5" cy="256" rx="1.5" ry="1.5" fill="#111" stroke="#1c1c1c" stroke-width="1" />
<line x1="359.5" y1="257.3" x2="416" y2="257" stroke="#555" stroke-width="0.9" stroke-dasharray="7 3.5"/>
<line x1="316.5" y1="268.4" x2="416" y2="267.6" stroke="#555" stroke-width="0.9" stroke-dasharray="7 3.5"/>
<path d="M420.5 181 L313.7 265.5" fill="none" stroke="#1c1c1c" stroke-width="0.9" />
<path d="M420.5 181 L349 252.7" fill="none" stroke="#1c1c1c" stroke-width="0.9" />
<path d="M94.7 308 L97 322 L101.6 354" fill="none" stroke="#1c1c1c" stroke-width="1.2" />
<path d="M101.6 354 L115 350 L128 346.6" fill="none" stroke="#1c1c1c" stroke-width="1.1" />
<path d="M96.5 309.5 L99 309 L103.5 353.4" fill="none" stroke="#1c1c1c" stroke-width="0.8" />
<path d="M96.1 346.6 L90.8 351.9 L83.4 350 L81.5 342.6 L86.8 337.3 L94.2 339.2Z" fill="#fff" stroke="#1c1c1c" stroke-width="1.2" />
<ellipse cx="88.3" cy="345" rx="5.6" ry="6.2" fill="none" stroke="#1c1c1c" stroke-width="0.9" />
<path d="M77.5 343.5 L75.5 351 L82 357 L83.5 352" fill="none" stroke="#1c1c1c" stroke-width="1" />
<path d="M79.5 352.5 L82.5 355.5" fill="none" stroke="#1c1c1c" stroke-width="1.8" />
<path d="M97.6 355 L95.7 382.5 L108.5 354" fill="none" stroke="#1c1c1c" stroke-width="1.2" />
<path d="M100 356 L97.6 377 L105.5 357.5" fill="none" stroke="#1c1c1c" stroke-width="0.9" />
<path d="M82 357 L95.5 381 L95.7 382.5" fill="none" stroke="#1c1c1c" stroke-width="1" />
<path d="M75.5 351 L69.5 356" fill="none" stroke="#1c1c1c" stroke-width="0.9" />
<path d="M95.7 382.5 L101 396 L112 409 L120.5 421" fill="none" stroke="#1c1c1c" stroke-width="1" />
<path d="M108.5 354 L118 350.5" fill="none" stroke="#1c1c1c" stroke-width="1" />
<path d="M104 366 L121.5 416 L123 424" fill="none" stroke="#1c1c1c" stroke-width="1" />
<path d="M121.5 416 L146 404" fill="none" stroke="#1c1c1c" stroke-width="1" />
<path d="M116 350.5 C118.7 354 121.6 357.3 124 361 C127.2 365.9 130.1 370.9 133 376 C136 381.3 138.7 386.6 141.5 392 C144.1 397 146.6 402 149 407 C151.2 411.6 153.6 416.2 155.5 421 C157.2 425.2 158.5 429.7 160 434" fill="none" stroke="#1c1c1c" stroke-width="1.2" />
<path d="M119.5 349.5 C122.2 353 125.1 356.3 127.5 360 C130.7 364.9 133.6 369.9 136.5 375 C139.5 380.3 142.2 385.6 145 391 C147.6 396 150.1 401 152.5 406 C154.7 410.6 157.1 415.2 159 420 C160.7 424.2 162 428.7 163.5 433" fill="none" stroke="#1c1c1c" stroke-width="1.7" />
<path d="M114 352 C116.3 355.3 118.8 358.6 121 362 C123.1 365.3 125 368.7 127 372" fill="none" stroke="#1c1c1c" stroke-width="0.9" />
<path d="M115.5 363.5 L121.5 359.5 L128.8 360 L137 373.5 L136 377 L129.5 380.5 L123.5 379.5Z" fill="#fff" stroke="#1c1c1c" stroke-width="1.7" />
<path d="M119.5 363.5 L126.5 361.5 L133.5 374.5 L127.5 377.5Z" fill="none" stroke="#1c1c1c" stroke-width="1" />
<path d="M123 362.5 L130.5 376" fill="none" stroke="#1c1c1c" stroke-width="0.8" />
<path d="M137.6 401.1 L134.5 405.5 L129.1 405 L126.8 400.1 L129.9 395.7 L135.3 396.2Z" fill="#fff" stroke="#1c1c1c" stroke-width="1.3" />
<ellipse cx="132.2" cy="400.6" rx="3" ry="3.4" fill="none" stroke="#1c1c1c" stroke-width="0.9" />
<path d="M157 409.8 C159 409.3 161 408.1 163 408.4 C165.1 408.7 167.2 409.8 168.6 411.4 C170.1 413 171 415.3 171.4 417.5 C171.8 419.8 171.6 422.2 171 424.5 C170.5 426.5 169.3 428.4 168 430 C167 431.2 165.5 431.7 164.2 432.6" fill="none" stroke="#1c1c1c" stroke-width="1" />
<path d="M123.9 375.6 L129 379.1 L133.8 383.2 L138.3 387.7 L142.4 392.7 L146.2 398.1 L149.5 403.9 L152.3 409.9 L154.7 416.2 L156.6 422.6 L157.9 429.2 L158.7 435.8 L158.9 442.5 L158.6 449.1 L157.8 455.5 L156.4 461.8 L154.5 467.8 L152.1 473.6 L149.2 479 L145.8 484 L142.1 488.6 L137.9 492.7 L133.4 496.2 L128.5 499.2 L123.4 501.7 L118.1 503.5 L112.6 504.7 L107 505.2 L101.3 505.2 L95.6 504.5 L89.9 503.1 L84.4 501.2 L78.9 498.6 L73.7 495.5 L68.7 491.8 L63.9 487.6 L59.5 482.9 L55.5 477.8 L51.9 472.4 L48.7 466.5 L46 460.4" fill="none" stroke="#1c1c1c" stroke-width="1.9" />
<path d="M125.6 381.5 L130.1 385.2 L134.4 389.2 L138.3 393.7 L141.9 398.6 L145.1 403.7 L147.9 409.2 L150.3 414.9 L152.2 420.8 L153.7 426.8 L154.7 432.9 L155.2 439.1 L155.3 445.2 L154.8 451.2 L153.8 457.2 L152.4 462.9 L150.5 468.4 L148.2 473.6 L145.4 478.5 L142.2 483.1 L138.7 487.2 L134.8 490.9 L130.6 494.1 L126.1 496.8 L121.4 499 L116.4 500.7 L111.4 501.8 L106.2 502.3 L101 502.2 L95.7 501.6 L90.5 500.4 L85.3 498.6 L80.3 496.3 L75.4 493.5 L70.8 490.2 L66.3 486.4 L62.2 482.2 L58.4 477.6 L54.9 472.6 L51.9 467.4 L49.2 461.8" fill="none" stroke="#1c1c1c" stroke-width="1" />
<path d="M132.2 396.4 L135.1 400 L137.8 403.9 L140.2 408 L142.4 412.2 L144.3 416.7 L145.9 421.2 L147.2 425.9 L148.2 430.6 L148.8 435.3 L149.2 440.1 L149.2 444.9 L149 449.6 L148.4 454.2 L147.5 458.8 L146.3 463.2 L144.8 467.4 L143 471.5 L140.9 475.4 L138.5 479 L135.9 482.3 L133.1 485.4 L130 488.2 L126.8 490.7 L123.3 492.9 L119.7 494.7 L116 496.1 L112.1 497.2 L108.2 498 L104.2 498.3 L100.1 498.3 L96.1 497.9 L92 497.1 L88 496 L84 494.5 L80.1 492.7 L76.4 490.5 L72.7 488 L69.2 485.1 L65.9 482 L62.8 478.6" fill="none" stroke="#1c1c1c" stroke-width="1" />
<g clip-path="url(#lens)">
<g clip-path="url(#flange)">
<path d="M76 408 L79.3 405.9 L82.9 404.2 L86.7 403.1 L90.5 402.5 L94.5 402.5 L98.4 403 L102.4 404 L106.2 405.5 L109.9 407.6 L113.4 410.1 L116.7 413.1 L119.7 416.5 L122.5 420.2 L124.8 424.3 L126.8 428.6 L128.4 433.1 L129.6 437.8 L130.4 442.5 L130.7 447.3 L130.5 452.1 L129.9 456.7 L128.9 461.2 L127.5 465.5 L125.6 469.5 L123.4 473.2 L120.8 476.5 L117.8 479.5 L114.6 481.9 L111.2 483.9 L107.5 485.4 L103.7 486.3 L99.9 486.8 L95.9 486.6 L92 486 L88.1 484.8 L84.3 483.1 L80.6 480.9 L77.1 478.2 L73.9 475.1 L71 471.6" fill="none" stroke="#1c1c1c" stroke-width="1.5" />
<path d="M78.2 408.3 L81.5 406.6 L84.9 405.5 L88.5 404.8 L92.1 404.6 L95.8 404.9 L99.4 405.7 L103 407 L106.5 408.8 L109.8 411 L112.9 413.6 L115.9 416.6 L118.5 420 L120.9 423.6 L122.9 427.5 L124.6 431.7 L125.9 436 L126.8 440.4 L127.4 444.8 L127.5 449.3 L127.2 453.7 L126.5 458 L125.4 462.1 L124 466.1 L122.1 469.7 L120 473.1 L117.5 476.1 L114.7 478.7 L111.7 480.9 L108.5 482.6 L105.1 483.9 L101.6 484.7 L97.9 485 L94.3 484.8 L90.6 484.1 L87 482.9 L83.5 481.3 L80.2 479.2 L77 476.7 L74 473.7 L71.3 470.5" fill="none" stroke="#1c1c1c" stroke-width="1" />
<path d="M83.4 409.2 L85.6 408.6 L87.8 408.4 L90.1 408.4 L92.3 408.8 L94.6 409.4 L96.8 410.2 L99 411.4 L101.2 412.8 L103.2 414.4 L105.2 416.3 L107.1 418.4 L108.8 420.7 L110.4 423.2 L111.9 425.8 L113.2 428.6 L114.3 431.5 L115.2 434.5 L116 437.6 L116.6 440.7 L116.9 443.9 L117.1 447 L117 450.1 L116.8 453.2 L116.3 456.2 L115.7 459.1 L114.9 461.8 L113.8 464.5 L112.6 466.9 L111.3 469.2 L109.7 471.2 L108.1 473.1 L106.3 474.7 L104.4 476 L102.3 477.1 L100.2 478 L98.1 478.5 L95.9 478.8 L93.6 478.8 L91.3 478.5 L89.1 477.9" fill="none" stroke="#1c1c1c" stroke-width="1.1" />
<path d="M82.1 410.5 L84.2 410.3 L86.3 410.3 L88.4 410.6 L90.5 411.1 L92.6 411.9 L94.7 412.9 L96.7 414.2 L98.7 415.7 L100.5 417.4 L102.3 419.3 L104 421.4 L105.5 423.6 L106.9 426.1 L108.2 428.6 L109.3 431.3 L110.3 434.1 L111 436.9 L111.6 439.8 L112.1 442.8 L112.3 445.7 L112.4 448.6 L112.2 451.5 L111.9 454.4 L111.4 457.1 L110.7 459.8 L109.9 462.3 L108.9 464.7 L107.7 467 L106.4 469 L104.9 470.9 L103.3 472.6 L101.6 474 L99.8 475.3 L97.9 476.3 L95.9 477 L93.9 477.5 L91.8 477.7 L89.7 477.7 L87.6 477.4 L85.5 476.9" fill="none" stroke="#1c1c1c" stroke-width="0.9" />
<path d="M66.8 447.2 L66.8 445 L67.1 442.8 L67.5 440.8 L68.2 438.9 L69.1 437.2 L70.2 435.7 L71.4 434.5 L72.8 433.6 L74.2 433.1 L75.7 432.8 L77.2 432.9 L78.7 433.4 L80.1 434.1 L81.5 435.2 L82.7 436.6 L83.8 438.2 L84.7 440 L85.4 442 L85.9 444.1 L86.2 446.3 L86.2 448.5 L86 450.7 L85.6 452.8 L84.9 454.7 L84.1 456.4 L83.1 458 L81.9 459.2 L80.6 460.2 L79.1 460.8 L77.7 461.2 L76.2 461.1 L74.7 460.8 L73.2 460.1 L71.8 459 L70.6 457.7 L69.4 456.2 L68.5 454.4 L67.7 452.4 L67.2 450.3 L66.9 448.2" fill="none" stroke="#1c1c1c" stroke-width="1.3" />
<path d="M64.9 447.2 L64.9 444.6 L65.2 442 L65.8 439.6 L66.6 437.3 L67.7 435.3 L69 433.5 L70.4 432.1 L72 431 L73.7 430.3 L75.5 430 L77.3 430.2 L79.1 430.7 L80.8 431.6 L82.4 432.9 L83.9 434.5 L85.2 436.5 L86.3 438.7 L87.2 441 L87.7 443.6 L88.1 446.2 L88.1 448.8 L87.9 451.4 L87.4 453.9 L86.6 456.2 L85.6 458.3 L84.4 460.1 L82.9 461.6 L81.4 462.8 L79.7 463.6 L77.9 463.9 L76.1 463.9 L74.3 463.5 L72.6 462.6 L70.9 461.4 L69.4 459.9 L68.1 458 L66.9 455.9 L66 453.5 L65.4 451 L65 448.4" fill="none" stroke="#1c1c1c" stroke-width="1" />
<path d="M68.1 432.2 L69.3 431 L70.7 429.9 L72.1 429.1 L73.6 428.6 L75.2 428.3 L76.8 428.4 L78.3 428.7 L79.9 429.3 L81.4 430.1 L82.8 431.2 L84.1 432.5 L85.4 434.1 L86.4 435.8 L87.4 437.7 L88.1 439.8 L88.7 441.9 L89.2 444.2 L89.4 446.4 L89.4 448.7 L89.3 451 L88.9 453.2 L88.4 455.3 L87.7 457.2 L86.8 459.1 L85.8 460.7 L84.6 462.2 L83.3 463.4 L81.9 464.3 L80.5 465.1 L78.9 465.5 L77.4 465.7 L75.8 465.6 L74.2 465.2 L72.7 464.5 L71.2 463.6 L69.8 462.4 L68.5 461 L67.3 459.4 L66.3 457.6 L65.4 455.7" fill="none" stroke="#1c1c1c" stroke-width="1.6" />
<path d="M66.4 429.1 L67.9 427.5 L69.5 426.2 L71.2 425.3 L73.1 424.7 L74.9 424.4 L76.8 424.4 L78.7 424.8 L80.5 425.5 L82.3 426.5 L84 427.8 L85.6 429.5 L87.1 431.3 L88.4 433.4 L89.5 435.8 L90.4 438.2 L91.1 440.9 L91.6 443.6 L91.9 446.3 L91.9 449.1 L91.7 451.8 L91.3 454.5 L90.7 457 L89.9 459.4 L88.8 461.7 L87.6 463.7 L86.2 465.4 L84.7 466.9 L83 468.1 L81.2 468.9 L79.4 469.5 L77.5 469.7 L75.7 469.5 L73.8 469.1 L72 468.3 L70.2 467.1 L68.5 465.7 L67 464 L65.6 462.1 L64.3 459.9 L63.2 457.5" fill="none" stroke="#1c1c1c" stroke-width="1.1" />
<path d="M64.8 426.5 L66.6 424.7 L68.4 423.2 L70.4 422.1 L72.5 421.4 L74.7 421.1 L76.9 421.1 L79 421.5 L81.2 422.3 L83.2 423.5 L85.2 425 L87 426.9 L88.7 429 L90.2 431.5 L91.5 434.1 L92.6 437 L93.4 440 L94 443.1 L94.3 446.2 L94.3 449.4 L94.1 452.5 L93.6 455.6 L92.9 458.5 L91.9 461.2 L90.7 463.8 L89.3 466.1 L87.7 468.1 L85.9 469.8 L84 471.1 L82 472.1 L79.9 472.7 L77.7 473 L75.5 472.8 L73.3 472.3 L71.2 471.4 L69.2 470.1 L67.3 468.5 L65.5 466.5 L63.8 464.3 L62.4 461.8 L61.2 459.1" fill="none" stroke="#1c1c1c" stroke-width="1.6" />
<path d="M63.8 424.6 L65.7 422.6 L67.7 421 L69.9 419.8 L72.2 419 L74.5 418.7 L76.9 418.7 L79.3 419.2 L81.6 420.1 L83.8 421.4 L86 423 L88 425 L89.8 427.4 L91.4 430 L92.8 432.9 L94 436 L94.9 439.3 L95.5 442.7 L95.9 446.1 L95.9 449.6 L95.7 453 L95.2 456.4 L94.4 459.6 L93.3 462.6 L92 465.3 L90.5 467.8 L88.7 470 L86.8 471.9 L84.7 473.3 L82.5 474.4 L80.2 475.1 L77.8 475.4 L75.4 475.2 L73.1 474.6 L70.8 473.6 L68.5 472.2 L66.4 470.4 L64.5 468.3 L62.7 465.9 L61.1 463.2 L59.8 460.2" fill="none" stroke="#1c1c1c" stroke-width="0.9" />
<path d="M62.7 422.7 L64.8 420.6 L67 418.8 L69.3 417.5 L71.8 416.7 L74.4 416.3 L76.9 416.3 L79.5 416.8 L82 417.8 L84.4 419.2 L86.8 421 L88.9 423.2 L90.9 425.7 L92.7 428.6 L94.2 431.7 L95.5 435.1 L96.4 438.7 L97.1 442.3 L97.5 446.1 L97.5 449.8 L97.3 453.5 L96.7 457.2 L95.9 460.6 L94.7 463.9 L93.3 466.9 L91.6 469.6 L89.7 472 L87.6 474 L85.4 475.6 L83 476.7 L80.5 477.5 L77.9 477.8 L75.3 477.6 L72.8 476.9 L70.3 475.9 L67.9 474.3 L65.6 472.4 L63.5 470.1 L61.6 467.5 L59.9 464.5 L58.4 461.3" fill="none" stroke="#1c1c1c" stroke-width="1.1" />
<path d="M60.7 420.2 L63 417.8 L65.6 415.9 L68.3 414.5 L71.2 413.5 L74.1 413.1 L77.1 413.1 L80.1 413.7 L83 414.7 L85.8 416.3 L88.5 418.2 L91 420.7 L93.2 423.5 L95.3 426.6 L97 430.1 L98.5 433.8 L99.6 437.7 L100.4 441.8 L100.8 445.9 L100.8 450 L100.5 454.1 L99.9 458.1 L98.9 462 L97.5 465.6 L95.8 468.9 L93.9 471.9 L91.7 474.5 L89.3 476.7 L86.6 478.5 L83.9 479.8 L81 480.6 L78 481 L75.1 480.8 L72.1 480.1 L69.2 478.9 L66.4 477.2 L63.8 475.1 L61.4 472.6 L59.2 469.7 L57.2 466.4 L55.5 462.9" fill="none" stroke="#1c1c1c" stroke-width="1.5" />
<path d="M58.7 418.8 L61.4 416.4 L64.3 414.3 L67.4 412.8 L70.7 411.8 L74 411.3 L77.4 411.3 L80.7 411.9 L84 413 L87.2 414.6 L90.2 416.6 L93 419.2 L95.6 422.1 L97.8 425.4 L99.8 429.1 L101.4 433 L102.7 437.1 L103.5 441.4 L104 445.7 L104 450.1 L103.6 454.4 L102.9 458.6 L101.7 462.6 L100.2 466.4 L98.3 470 L96 473.1 L93.5 475.9 L90.8 478.3 L87.8 480.1 L84.6 481.5 L81.4 482.4 L78 482.8 L74.7 482.6 L71.3 481.9 L68.1 480.6 L64.9 478.9 L62 476.7 L59.2 474 L56.8 471 L54.6 467.6 L52.7 463.8" fill="none" stroke="#1c1c1c" stroke-width="1" />
<path d="M56.7 417.5 L59.8 414.9 L63 412.8 L66.5 411.1 L70.2 410 L73.9 409.5 L77.6 409.5 L81.4 410.1 L85.1 411.2 L88.6 412.9 L92 415 L95.1 417.7 L98 420.8 L100.5 424.2 L102.7 428.1 L104.5 432.2 L105.8 436.5 L106.8 440.9 L107.3 445.5 L107.3 450.1 L106.9 454.6 L106 459.1 L104.6 463.3 L102.9 467.3 L100.8 471 L98.3 474.4 L95.4 477.3 L92.3 479.8 L89 481.8 L85.5 483.2 L81.8 484.2 L78 484.6 L74.3 484.4 L70.6 483.6 L66.9 482.4 L63.4 480.6 L60.1 478.2 L57 475.5 L54.3 472.3 L51.8 468.7 L49.8 464.8" fill="none" stroke="#1c1c1c" stroke-width="1.1" />
<path d="M53.6 412.6 L57.1 409.6 L60.9 407.1 L64.9 405.2 L69.1 403.9 L73.4 403.3 L77.8 403.3 L82.1 404 L86.4 405.3 L90.5 407.3 L94.4 409.8 L98 412.9 L101.3 416.5 L104.2 420.5 L106.8 425 L108.8 429.7 L110.4 434.8 L111.5 440 L112.1 445.3 L112.1 450.6 L111.6 455.9 L110.6 461.1 L109 466 L107 470.7 L104.6 475 L101.7 478.9 L98.4 482.3 L94.8 485.2 L91 487.5 L86.9 489.2 L82.6 490.3 L78.3 490.8 L74 490.5 L69.6 489.7 L65.4 488.2 L61.4 486.1 L57.6 483.4 L54 480.2 L50.8 476.4 L48 472.3 L45.6 467.7" fill="none" stroke="#1c1c1c" stroke-width="1" />
</g>
</g>
<path d="M67 437 L50 440 C46.5 442 45.7 445 45.7 451 C45.7 458 46.5 462 49.5 463.5 L66 461.5 Z" fill="#fff" stroke="#1c1c1c" stroke-width="1.2" />
<path d="M60.3 430.8 C61.7 432.5 63.3 434.1 64.5 436 C65.7 437.9 66.6 439.9 67.3 442 C68 444.1 68.3 446.4 68.4 448.6 C68.6 451.1 68.4 453.5 68.2 456 C67.9 459 67.3 461.9 66.8 464.8" fill="none" stroke="#1c1c1c" stroke-width="2" />
<path d="M63.5 431.5 C64.9 433.5 66.6 435.3 67.8 437.5 C68.9 439.5 69.9 441.7 70.4 444 C71 446.6 71.1 449.3 71 452 C70.9 455.4 70.1 458.7 69.6 462" fill="none" stroke="#1c1c1c" stroke-width="1.1" />
<path d="M50 440 C51.2 441.7 52.9 443.1 53.5 445 C54.3 447.6 54.2 450.3 54 453 C53.8 455.4 53.4 457.8 52.5 460 C51.9 461.4 50.5 462.3 49.5 463.5" fill="none" stroke="#1c1c1c" stroke-width="1" />
<path d="M49.6 419 L47.2 432 L45.7 445" fill="none" stroke="#1c1c1c" stroke-width="1" />
<path d="M52 432.5 C53.3 431.5 54.4 429.8 56 429.5 C57.5 429.2 58.9 430.4 60.3 430.8" fill="none" stroke="#1c1c1c" stroke-width="1.2" />
<path d="M52 432.5 L53.5 439" fill="none" stroke="#1c1c1c" stroke-width="1" />
<path d="M66.8 464.8 C65.2 466 63.9 467.9 62 468.5 C60.4 469 58.3 469 57 468 C55.6 466.9 55.7 464.7 55 463" fill="none" stroke="#1c1c1c" stroke-width="1.2" />
<path d="M45.7 464.7 C46.8 466.5 47.7 468.4 49 470 C50.2 471.5 51.7 472.7 53 474" fill="none" stroke="#1c1c1c" stroke-width="1" />
<path d="M51.6 408 C54.4 404.7 56.6 400.7 60 398 C63.5 395.1 67.7 392.9 72 391.5 C76.5 390 81.3 389.5 86 389.5 C90.1 389.5 94 390.8 98 391.5" fill="none" stroke="#1c1c1c" stroke-width="1" />
<path d="M50 416 C52.3 413 54.2 409.5 57 407 C60.2 404.1 64 401.6 68 400 C72.4 398.2 77.2 397.2 82 397 C86.7 396.8 91.5 397.5 96 399 C100.4 400.5 104.5 403 108 406 C111.3 408.8 113.3 412.7 116 416" fill="none" stroke="#1c1c1c" stroke-width="1" />
<path d="M101 396 C103.3 397 105.9 397.5 108 399 C110.5 400.8 112.6 403.1 114.5 405.5 C116 407.5 116.8 409.8 118 412" fill="none" stroke="#1c1c1c" stroke-width="0.9" />
<path d="M152.2 451.4 L148.6 455.1 L143.1 454.2 L141.2 449.8 L144.8 446.1 L150.3 447Z" fill="#fff" stroke="#1c1c1c" stroke-width="1.9" />
<ellipse cx="147.3" cy="450.8" rx="2.8" ry="3.1" fill="none" stroke="#1c1c1c" stroke-width="1.4" />
<path d="M141.7 449.5 L139.4 452.3 L142.2 455.1" fill="none" stroke="#1c1c1c" stroke-width="1" />
<path d="M145.7 475.9 L142.5 479.2 L137.6 478.5 L135.9 474.5 L139.1 471.2 L144 471.9Z" fill="#fff" stroke="#1c1c1c" stroke-width="1.9" />
<ellipse cx="141.4" cy="475.4" rx="2.5" ry="2.8" fill="none" stroke="#1c1c1c" stroke-width="1.4" />
<path d="M136.3 474.2 L134.3 476.7 L136.8 479.2" fill="none" stroke="#1c1c1c" stroke-width="1" />
<path d="M130.3 492.4 L127 495.8 L121.9 495 L120.1 490.8 L123.4 487.4 L128.5 488.2Z" fill="#fff" stroke="#1c1c1c" stroke-width="1.9" />
<ellipse cx="125.8" cy="491.8" rx="2.6" ry="2.9" fill="none" stroke="#1c1c1c" stroke-width="1.4" />
<path d="M120.5 490.6 L118.4 493.2 L121 495.8" fill="none" stroke="#1c1c1c" stroke-width="1" />
<path d="M110 500.1 L107.1 503.1 L102.5 502.4 L101 498.7 L103.9 495.7 L108.5 496.4Z" fill="#fff" stroke="#1c1c1c" stroke-width="1.9" />
<ellipse cx="106.1" cy="499.6" rx="2.3" ry="2.5" fill="none" stroke="#1c1c1c" stroke-width="1.4" />
<path d="M101.4 498.5 L99.5 500.8 L101.8 503.1" fill="none" stroke="#1c1c1c" stroke-width="1" />
<path d="M87.5 495.3 L84.6 498.3 L80 497.6 L78.5 493.9 L81.4 490.9 L86 491.6Z" fill="#fff" stroke="#1c1c1c" stroke-width="1.9" />
<ellipse cx="83.6" cy="494.8" rx="2.3" ry="2.5" fill="none" stroke="#1c1c1c" stroke-width="1.4" />
<path d="M78.9 493.7 L77 496 L79.3 498.3" fill="none" stroke="#1c1c1c" stroke-width="1" />
<path d="M284.7 111 C284.5 114 284.1 117 284.2 120 C284.2 122.7 284.7 125.3 285 128 C285.2 130.2 285.5 132.5 285.7 134.7" fill="none" stroke="#1c1c1c" stroke-width="1.4" />
<path d="M286.8 119.6 C287.7 121.1 288.5 122.6 289.5 124 C290.4 125.4 291.5 126.7 292.5 128 C293.4 129.2 294.4 130.3 295.4 131.5" fill="none" stroke="#1c1c1c" stroke-width="1.2" />
<path d="M303 104.5 C305.7 105.5 308.5 106.2 311 107.5 C313.3 108.7 315.4 110.4 317.5 112 C319.2 113.4 320.9 114.8 322.4 116.4 C323.9 118.1 325.3 120.1 326.5 122 C327.6 123.8 328.6 125.6 329.5 127.5 C330.1 128.8 330.5 130.2 331 131.5" fill="none" stroke="#1c1c1c" stroke-width="1.9" />
<path d="M272.6 84 C272.9 87.7 273.5 91.3 273.6 95 C273.7 100 273.5 105 273.2 110 C272.8 115.4 272.2 120.7 271.5 126 C270.7 132 269.7 138 268.8 144" fill="none" stroke="#1c1c1c" stroke-width="1" />
<path d="M324.6 84 C325.9 86.3 327.5 88.5 328.5 91 C329.7 94 330.6 97 331 100.2 C331.3 102.8 331 105.4 330.6 108 C330.3 109.7 329.7 111.4 328.9 113 C328 114.9 326.7 116.7 325.6 118.5" fill="none" stroke="#1c1c1c" stroke-width="1.6" />
<path d="M266 170 L277 167" fill="none" stroke="#1c1c1c" stroke-width="0.9" />
<path d="M264.4 176.5 L275.8 173.5" fill="none" stroke="#1c1c1c" stroke-width="0.9" />
<path d="M262.8 183 L274.6 180" fill="none" stroke="#1c1c1c" stroke-width="0.9" />
<path d="M261.2 189.5 L273.4 186.5" fill="none" stroke="#1c1c1c" stroke-width="0.9" />
<path d="M259.6 196 L272.2 193" fill="none" stroke="#1c1c1c" stroke-width="0.9" />
<line x1="428" y1="265" x2="510" y2="264.8" stroke="#8f8fc8" stroke-width="0.9" stroke-dasharray="8 3"/>
<line x1="561" y1="290.3" x2="655" y2="290" stroke="#8f8fc8" stroke-width="0.9" stroke-dasharray="8 3"/>
<line x1="474" y1="253.2" x2="551" y2="252.4" stroke="#555" stroke-width="0.9" stroke-dasharray="7 3.5"/>
<path d="M425.5 234.5 L462 225.2 C468 223.6 472.3 224.6 473.5 231" fill="none" stroke="#1c1c1c" stroke-width="1.7" />
<path d="M473.5 231 L480.4 276.7 L468.6 277.4 L450 278.6" fill="none" stroke="#1c1c1c" stroke-width="1.1" />
<path d="M426 236.4 L462.4 227.2 C467 226 470.4 227.2 471.5 232" fill="none" stroke="#1c1c1c" stroke-width="0.8" />
<path d="M425.5 234.5 C423.8 235.3 422 235.9 420.5 237 C419.3 237.9 418.2 239.1 417.5 240.5 C416.9 241.6 417 243 416.7 244.3" fill="none" stroke="#1c1c1c" stroke-width="1.4" />
<path d="M416.7 244.3 L418 263 L419.6 282.5 L430 295 L442 308 L447 310.2 L453 308.6 L458.8 306" fill="none" stroke="#1c1c1c" stroke-width="1.4" />
<path d="M421.5 242.4 L423 261 L424.5 279.6 L436 293 L447 306" fill="none" stroke="#1c1c1c" stroke-width="1.1" />
<path d="M425.5 234.5 C424.5 235.7 423.3 236.6 422.6 238 C421.9 239.3 421.9 240.9 421.5 242.4" fill="none" stroke="#1c1c1c" stroke-width="1" />
<path d="M419.6 282.5 L424.5 279.6" fill="none" stroke="#1c1c1c" stroke-width="0.8" />
<path d="M417 252 L422 251.4" fill="none" stroke="#1c1c1c" stroke-width="0.8" />
<path d="M449 238.4 L450 278.6" fill="none" stroke="#1c1c1c" stroke-width="1.3" />
<path d="M449 238.4 L468.6 277" fill="none" stroke="#1c1c1c" stroke-width="1.3" />
<path d="M451 238.8 L470.6 277" fill="none" stroke="#1c1c1c" stroke-width="1" />
<path d="M449 238.4 L451 238.8" fill="none" stroke="#1c1c1c" stroke-width="1" />
<ellipse cx="428.4" cy="265" rx="3" ry="5" fill="#fff" stroke="#1c1c1c" stroke-width="1.2" />
<ellipse cx="429.2" cy="265.2" rx="1.9" ry="3.8" fill="none" stroke="#1c1c1c" stroke-width="0.8" />
<ellipse cx="470.4" cy="254" rx="3" ry="5" fill="#fff" stroke="#1c1c1c" stroke-width="1.2" />
<ellipse cx="471.2" cy="254.2" rx="1.9" ry="3.8" fill="none" stroke="#1c1c1c" stroke-width="0.8" />
<ellipse cx="432.4" cy="282" rx="1.7" ry="1.7" fill="#111" stroke="#1c1c1c" stroke-width="0.8" />
<path d="M449 281.5 L558.8 278.5 C567 279.5 567 301 558 302.3 L449 306 C441.5 304.5 441.5 283 449 281.5 Z" fill="#fff" stroke="#1c1c1c" stroke-width="1.2" />
<ellipse cx="558.6" cy="290.4" rx="5.2" ry="11.9" fill="#fff" stroke="#1c1c1c" stroke-width="1.3" />
<ellipse cx="559.6" cy="290.4" rx="4" ry="10.4" fill="none" stroke="#1c1c1c" stroke-width="0.8" />
<path d="M518 279.3 L522 279.9" fill="none" stroke="#1c1c1c" stroke-width="1.6" />
<path d="M538 278.8 L542 279.4" fill="none" stroke="#1c1c1c" stroke-width="1.6" />
<path d="M432.4 282 L397.7 355" fill="none" stroke="#1c1c1c" stroke-width="0.9" />
<g transform="translate(519.5 265)">
<path d="M-11.5 -3 L-8 -9.5 L-1 -11 L4 -8 L5 6 L1 10.5 L-6 11 L-10.5 6 Z" fill="#fff" stroke="#1c1c1c" stroke-width="1.9" />
<path d="M-8 -9.5 L-6.5 -1 L-10.5 6 M-6.5 -1 L-1.5 -1.5" fill="none" stroke="#1c1c1c" stroke-width="1" />
<ellipse cx="3.6" cy="0.2" rx="7.6" ry="9.8" fill="#fff" stroke="#1c1c1c" stroke-width="2.1" transform="rotate(-8 3.6 0.2)" />
<ellipse cx="4.6" cy="0.4" rx="5.2" ry="7.4" fill="none" stroke="#1c1c1c" stroke-width="1" transform="rotate(-8 4.6 0.4)" />
<ellipse cx="5.4" cy="0.6" rx="3.2" ry="5.4" fill="none" stroke="#1c1c1c" stroke-width="1.9" transform="rotate(-8 5.4 0.6)" />
</g>
<g transform="translate(561.8 252)">
<path d="M-11.5 -3 L-8 -9.5 L-1 -11 L4 -8 L5 6 L1 10.5 L-6 11 L-10.5 6 Z" fill="#fff" stroke="#1c1c1c" stroke-width="1.9" />
<path d="M-8 -9.5 L-6.5 -1 L-10.5 6 M-6.5 -1 L-1.5 -1.5" fill="none" stroke="#1c1c1c" stroke-width="1" />
<ellipse cx="3.6" cy="0.2" rx="7.6" ry="9.8" fill="#fff" stroke="#1c1c1c" stroke-width="2.1" transform="rotate(-8 3.6 0.2)" />
<ellipse cx="4.6" cy="0.4" rx="5.2" ry="7.4" fill="none" stroke="#1c1c1c" stroke-width="1" transform="rotate(-8 4.6 0.4)" />
<ellipse cx="5.4" cy="0.6" rx="3.2" ry="5.4" fill="none" stroke="#1c1c1c" stroke-width="1.9" transform="rotate(-8 5.4 0.6)" />
</g>
<path d="M587.5 174.6 L521.6 252" fill="none" stroke="#1c1c1c" stroke-width="0.9" />
<path d="M587.5 174.6 L558.8 242.4" fill="none" stroke="#1c1c1c" stroke-width="0.9" />
<path d="M664 280.6 L790 277.4 L676 311.4 L664 311 C651 306 651 285 664 280.6 Z" fill="#fff" stroke="none" stroke-width="1.1" />
<path d="M790 277.4 L664 280.6 C651 285 651 306 664 311 L676 311.4" fill="none" stroke="#1c1c1c" stroke-width="1.1" />
<path d="M675 280.4 q4 2.6 8 -0.2" fill="none" stroke="#1c1c1c" stroke-width="1.6" />
<path d="M685.5 280.4 q4 2.6 8 -0.2" fill="none" stroke="#1c1c1c" stroke-width="1.6" />
<path d="M696 280.4 q4 2.6 8 -0.2" fill="none" stroke="#1c1c1c" stroke-width="1.6" />
<path d="M706.5 280.4 q4 2.6 8 -0.2" fill="none" stroke="#1c1c1c" stroke-width="1.6" />
<path d="M604 330.6 L676 311.4 L760 287.5 L824 270.6 L900 250.2 L959.3 234.3" fill="none" stroke="#1c1c1c" stroke-width="1.1" />
<path d="M611 357 L760 316.9 L824 300 L961 262.7" fill="none" stroke="#1c1c1c" stroke-width="1.1" />
<path d="M959.3 234.3 C961.5 234.2 963.8 233.6 966 234 C968.1 234.4 970.4 235 972 236.5 C973.1 237.6 973.6 239.4 973.4 241 C973.1 244.1 971.8 247.1 970.5 250 C969.3 252.7 967.7 255.2 966 257.5 C964.6 259.4 962.7 261 961 262.7" fill="none" stroke="#1c1c1c" stroke-width="1.1" />
<path d="M961.2 211.6 L996.5 257.8 L974 273.5 L963 263.7" fill="none" stroke="#1c1c1c" stroke-width="1" />
<path d="M604 330.6 C606.3 331.7 609 332.4 611 334 C612.9 335.6 614.5 337.7 615.5 340 C616.3 342 616.4 344.3 616.2 346.5 C616 348.6 615.4 350.6 614.5 352.5 C613.7 354.2 612.2 355.5 611 357" fill="none" stroke="#1c1c1c" stroke-width="1" />
<path d="M604 330.6 C600.8 331.9 595.1 333.9 592 335.5 C589.2 337 584.3 339.8 582 342 C579.6 344.3 576.2 349.1 574.5 352 C572.9 354.8 570.7 359.9 570 363 C569.3 365.9 569.1 371.1 569.2 374 C569.3 377.5 570.1 383.6 571 387 C571.8 390.2 574 395.6 575.5 398.5 C577 401.4 580.1 406.3 582 409 C584.3 412.3 588.6 417.8 591 421 C593.6 424.5 598 430.7 600.8 434 C604 437.8 610.1 444.1 613.5 447.8" fill="none" stroke="#1c1c1c" stroke-width="1.1" />
<path d="M611 357 C609.3 357.4 606.2 357.9 604.5 358.6 C603.1 359.2 600.6 360.5 599.5 361.6 C598.5 362.7 597.3 365.1 597 366.5 C596.7 368.2 596.9 371.3 597.2 373 C597.7 376 599 381.1 600 384 C601 387 603.2 392.2 604.7 395 C606.3 398.1 609.5 403.2 611.5 406 C613.7 409 618 413.8 620.4 416.5 C623.4 419.9 628.8 425.7 632 429 C635.1 432.3 640.8 437.8 644 441" fill="none" stroke="#1c1c1c" stroke-width="1.1" />
<path d="M613.5 447.8 L644 441" fill="none" stroke="#1c1c1c" stroke-width="1" />
<path d="M600.8 434 C601.7 431.5 602.1 428.7 603.5 426.5 C605 424.1 607.1 421.9 609.5 420.5 C612.8 418.5 616.8 417.8 620.4 416.5" fill="none" stroke="#1c1c1c" stroke-width="1" />
<ellipse cx="687" cy="321.8" rx="1.9" ry="1.9" fill="#111" stroke="#1c1c1c" stroke-width="0.8" />
<path d="M687 321.8 L698.5 367" fill="none" stroke="#1c1c1c" stroke-width="0.9" />
<path d="M747.6 90.3 C748.1 92.9 749.2 95.4 749 98 C748.8 101.1 747.8 104.2 746.5 107 C745.1 109.9 743.3 112.7 741 115 C738.7 117.3 735.7 118.7 733 120.5" fill="none" stroke="#1c1c1c" stroke-width="1" />
<path d="M740.2 88.3 L747.6 90.3" fill="none" stroke="#1c1c1c" stroke-width="1" />
<path d="M742.5 89 C742.8 91.7 743.7 94.3 743.5 97 C743.2 100.3 742.4 103.5 741 106.5 C739.7 109.4 737.7 112.1 735.5 114.5 C733.6 116.5 731.2 117.8 729 119.5" fill="none" stroke="#1c1c1c" stroke-width="0.9" />
<path d="M699.6 77.5 L739.2 88 C741 99 736 112 727 118.5 C715 124 700 116 695.5 100 C693.5 90 696 82 699.6 77.5 Z" fill="#fff" stroke="#1c1c1c" stroke-width="1.1" />
<ellipse cx="716.3" cy="94.8" rx="4.2" ry="4.6" fill="none" stroke="#1c1c1c" stroke-width="1" />
<path d="M736.9 117.7 L745.5 133 L764.3 151 L771 158" fill="none" stroke="#1c1c1c" stroke-width="1" />
<path d="M747.6 105 L782 151" fill="none" stroke="#1c1c1c" stroke-width="1" />
<path d="M740.5 124 L749.5 114" fill="none" stroke="#1c1c1c" stroke-width="0.9" />
<path d="M746.7 133.4 L745.6 138.5 L766 158.5" fill="none" stroke="#1c1c1c" stroke-width="1" />
<path d="M764.3 151 L771.5 141.5" fill="none" stroke="#1c1c1c" stroke-width="0.9" />
<path d="M766 131.5 L787 143.5 L797.6 147" fill="none" stroke="#1c1c1c" stroke-width="1" />
<path d="M769 136 L777.5 150.5" fill="none" stroke="#1c1c1c" stroke-width="1" />
<path d="M771.5 134.5 L784.5 149" fill="none" stroke="#1c1c1c" stroke-width="0.9" />
<path d="M768 131 L794 145.6" fill="none" stroke="#1c1c1c" stroke-width="0.8" />
<path d="M770.3 174.4 C771.4 173.1 779.9 162.3 781 161 C782.1 159.6 791.4 148.9 792.7 147.6 C792.9 147.4 795.3 146.4 795.6 146.4 C796 146.4 798.7 147.9 799 148.2 C801.4 150.4 819.7 168.7 822 171" fill="none" stroke="#1c1c1c" stroke-width="1.1" />
<path d="M770.3 174.4 L771 181 L785 195.6" fill="none" stroke="#1c1c1c" stroke-width="1.1" />
<path d="M794 145.8 L797.5 144.5 L800.5 146 L824 168.5" fill="none" stroke="#1c1c1c" stroke-width="0.9" />
<ellipse cx="776.2" cy="158.4" rx="4.3" ry="4.8" fill="#fff" stroke="#1c1c1c" stroke-width="1" />
<ellipse cx="798.6" cy="171" rx="4.3" ry="4.8" fill="none" stroke="#1c1c1c" stroke-width="1" />
<ellipse cx="786" cy="183" rx="4.3" ry="4.8" fill="none" stroke="#1c1c1c" stroke-width="1" />
<path d="M844.7 118 C843.7 120.4 840.7 127.6 839.8 130 C838.8 132.8 835.9 141.2 835 144 C834.3 146.3 832.9 153.3 832 155.5 C831.6 156.6 829.5 159.8 828.5 160.5 C827.4 161.3 823.4 162.5 822 162.4 C820.6 162.3 816.8 160.5 815.5 160" fill="none" stroke="#1c1c1c" stroke-width="1" />
<path d="M844.7 118 L860.4 122.6 L857.5 130 L846.7 164 L842.7 169 L836.9 174" fill="none" stroke="#1c1c1c" stroke-width="1" />
<path d="M856.3 121.4 L853.4 129.5 L843 163 L839.5 167.6" fill="none" stroke="#1c1c1c" stroke-width="0.8" />
<ellipse cx="826.6" cy="210.8" rx="32.3" ry="39" fill="none" stroke="#1c1c1c" stroke-width="1.2" transform="rotate(-8 826.6 210.8)" />
<ellipse cx="821.4" cy="212.4" rx="32.1" ry="39" fill="none" stroke="#1c1c1c" stroke-width="1" transform="rotate(-8 821.4 212.4)" />
<ellipse cx="817.2" cy="213.4" rx="32" ry="38.9" fill="#fff" stroke="#1c1c1c" stroke-width="1.2" transform="rotate(-8 817.2 213.4)" />
<ellipse cx="815.2" cy="213.5" rx="10.3" ry="12.7" fill="none" stroke="#1c1c1c" stroke-width="1.1" transform="rotate(-10 815.2 213.5)" />
<path d="M851.6 188.8 L896.7 181.6 L898.6 206 L858 216 Z" fill="#fff" stroke="none" stroke-width="1" />
<path d="M851.6 188.8 L896.7 181.6" fill="none" stroke="#1c1c1c" stroke-width="1" />
<path d="M858 216 L898.6 206" fill="none" stroke="#1c1c1c" stroke-width="1" />
<path d="M896.7 181.6 C895.8 183.7 894.4 185.7 894 188 C893.4 191.6 893.1 195.4 894 199 C894.7 201.7 897.1 203.7 898.6 206" fill="none" stroke="#1c1c1c" stroke-width="1" />
<path d="M857.5 203.5 C858.3 204.7 859.6 205.6 860 207 C860.5 208.9 860.4 211 860 213 C859.7 214.2 858.7 215 858 216" fill="none" stroke="#1c1c1c" stroke-width="1" />
<path d="M864 176.5 C864.2 176 865.1 172.8 865.6 172.5 C866.4 171.9 872 169.9 873 169.8 C876.8 169.3 898.1 167.5 902 167.6 C902.6 167.6 905.2 169.9 905.4 170.5 C905.7 171.2 905.4 175.3 905.4 176" fill="none" stroke="#1c1c1c" stroke-width="1" />
<path d="M907.8 210 C907.5 210.9 906.7 214.9 906 215.6 C905.1 216.5 900.2 218.2 899 218.6 C898 218.9 894 219.8 893 220 C890.8 220.4 882.2 221.7 880 222" fill="none" stroke="#1c1c1c" stroke-width="1" />
<path d="M902 170.4 C902.1 170.3 902.8 169.8 903 169.8 C904.1 169.7 910 169.2 911 169.6 C911.8 170 914.8 174.1 915 175 C915.5 176.9 915.9 188 916 190 C916.1 192.2 917 204.6 916.7 206.8 C916.6 207.6 913.4 211.1 912.7 211.6 C912.1 212 908.5 212.8 907.8 213" fill="none" stroke="#1c1c1c" stroke-width="1.1" />
<path d="M905.4 176 L906.6 193 L907.8 210" fill="none" stroke="#1c1c1c" stroke-width="1" />
<path d="M864 176.5 C864.2 178.3 863.8 180.3 864.5 182 C865.2 183.5 866.8 184.3 868 185.5" fill="none" stroke="#1c1c1c" stroke-width="1" />
<path d="M868 217.5 C869.7 218.8 871 220.8 873 221.5 C875.2 222.3 877.7 221.8 880 222" fill="none" stroke="#1c1c1c" stroke-width="1" />
<path d="M874.5 179.2 L871.6 182.7 L867 181.9 L865.5 177.6 L868.4 174.1 L873 174.9Z" fill="#fff" stroke="#1c1c1c" stroke-width="1" />
<path d="M900.8 178.4 L897.9 181.9 L893.3 181.1 L891.8 176.8 L894.7 173.3 L899.3 174.1Z" fill="#fff" stroke="#1c1c1c" stroke-width="1" />
<path d="M904.8 211.6 L901.9 215.1 L897.3 214.3 L895.8 210 L898.7 206.5 L903.3 207.3Z" fill="#fff" stroke="#1c1c1c" stroke-width="1" />
<path d="M878.5 214.8 L875.6 218.3 L871 217.5 L869.5 213.2 L872.4 209.7 L877 210.5Z" fill="#fff" stroke="#1c1c1c" stroke-width="1" />
<path d="M871 210 C870 211 868.3 211.6 868 213 C867.7 214.6 868.3 216.5 869.5 217.5 C870.8 218.6 872.8 218.2 874.5 218.5" fill="none" stroke="#1c1c1c" stroke-width="0.9" />
<path d="M921.6 172.8 C922.5 173.2 925.2 174.5 926 175 C927.1 175.7 930 178.2 931 179 C932.5 180.2 937 183.8 938.5 185" fill="none" stroke="#1c1c1c" stroke-width="1" />
<path d="M918.3 182.5 C918.8 182.8 920.5 183.6 921 184 C921.7 184.6 923.8 186.5 924 187.4 C924.6 189.9 924.6 197.7 924.8 200.3" fill="none" stroke="#1c1c1c" stroke-width="1" />
<path d="M914 166.6 L918.3 168.8 L921.6 172.8 L921.8 180" fill="none" stroke="#1c1c1c" stroke-width="0.9" />
<path d="M938.5 185 L938.5 181.7 L943.4 180 L949.9 186.6" fill="none" stroke="#1c1c1c" stroke-width="1" />
<path d="M932.9 191.4 C933.8 191 939 188.9 940 188.6 C941 188.3 946.4 187.3 947.4 187.4 C948 187.5 950.5 189.3 951 189.6 C952.7 190.9 962.2 197.9 963.6 199.5 C964 199.9 962.9 203 962.8 203.5" fill="none" stroke="#1c1c1c" stroke-width="1.1" />
<path d="M924.8 200.3 L928 195 L932.9 191.4" fill="none" stroke="#1c1c1c" stroke-width="1.1" />
<path d="M935.3 194.6 L943.4 202 L947 204.6" fill="none" stroke="#1c1c1c" stroke-width="0.9" />
<path d="M932.9 191.4 L935.3 194.6 L930 201" fill="none" stroke="#1c1c1c" stroke-width="0.9" />
<path d="M947.4 187.4 L949.5 190.6 L961.5 200.5" fill="none" stroke="#1c1c1c" stroke-width="0.8" />
<path d="M924.8 200.3 L906.2 225.4 L916.7 237.5 L921 239 L930.5 231 L933.7 218 L936.5 214.5" fill="none" stroke="#1c1c1c" stroke-width="1.1" />
<path d="M927.2 203.5 L909.4 226.2 L917.5 235" fill="none" stroke="#1c1c1c" stroke-width="0.9" />
<path d="M933.7 224.6 L944.5 214.5 L947.4 211.6" fill="none" stroke="#1c1c1c" stroke-width="1" />
<path d="M947.4 211.6 L952 209.8 L961.2 211.6" fill="none" stroke="#1c1c1c" stroke-width="1" />
<path d="M944 207.8 L943.6 212.9 L939 215.1 L934.8 212.2 L935.2 207.1 L939.8 204.9Z" fill="#fff" stroke="#1c1c1c" stroke-width="1.2" />
<path d="M943.5 207.8 L943.2 211.5 L939.9 213.1 L936.9 211 L937.2 207.3 L940.5 205.7Z" fill="#fff" stroke="#1c1c1c" stroke-width="0.8" />
<path d="M963.2 204 L962.7 208.8 L958.4 210.8 L954.4 208 L954.9 203.2 L959.2 201.2Z" fill="#fff" stroke="#1c1c1c" stroke-width="1.2" />
<path d="M962.7 203.9 L962.4 207.4 L959.3 208.8 L956.5 206.9 L956.8 203.4 L959.9 202Z" fill="#fff" stroke="#1c1c1c" stroke-width="0.8" />
<path d="M928.2 232.4 L927.8 236.9 L923.6 238.9 L919.8 236.2 L920.2 231.7 L924.4 229.7Z" fill="#fff" stroke="#1c1c1c" stroke-width="1.2" />
<path d="M927.8 232.3 L927.5 235.6 L924.5 237 L921.8 235.1 L922.1 231.8 L925.1 230.4Z" fill="#fff" stroke="#1c1c1c" stroke-width="0.8" />
<text transform="translate(423 175) scale(0.88 1)" x="0" y="0" font-size="23.5" font-style="italic" fill="#111" textLength="161.9" lengthAdjust="spacing" style="font-family:'Liberation Sans','DejaVu Sans',sans-serif">Болт М16х30</text>
<text transform="translate(590.5 169.6) scale(0.88 1)" x="0" y="0" font-size="23.5" font-style="italic" fill="#111" textLength="117.6" lengthAdjust="spacing" style="font-family:'Liberation Sans','DejaVu Sans',sans-serif">Гайка М6</text>
<text transform="translate(323.5 375.6) scale(0.88 1)" x="0" y="0" font-size="23.5" font-style="italic" fill="#111" textLength="82.4" lengthAdjust="spacing" style="font-family:'Liberation Sans','DejaVu Sans',sans-serif">Штырь</text>
<text transform="translate(700 387.8) scale(0.88 1)" x="0" y="0" font-size="23.5" font-style="italic" fill="#111" textLength="169.9" lengthAdjust="spacing" style="font-family:'Liberation Sans','DejaVu Sans',sans-serif">Косилка Заря</text>
<text transform="translate(710.5 414.4) scale(0.88 1)" x="0" y="0" font-size="23.5" font-style="italic" fill="#111" textLength="158.5" lengthAdjust="spacing" style="font-family:'Liberation Sans','DejaVu Sans',sans-serif">КР.05.000-03</text>
<g opacity="1" style="mix-blend-mode:multiply">
<text x="419" y="298.3" font-size="26.5" font-weight="bold" fill="#e2e2e2" stroke="#e2e2e2" stroke-width="1.1" textLength="184" lengthAdjust="spacingAndGlyphs" style="font-family:'Liberation Sans',sans-serif">ИНСТРУМЕНТ</text>
<text x="483" y="244.6" font-size="5.4" fill="#dcdcdc" textLength="119" lengthAdjust="spacing" style="font-family:'Liberation Sans',sans-serif">СЕТЬ МАГАЗИНОВ</text>
<text x="484" y="270" font-size="27" font-style="italic" fill="none" stroke="#b9b9b9" stroke-width="0.7" textLength="119" lengthAdjust="spacingAndGlyphs" style="font-family:'Liberation Serif',serif">АлтайСтрой</text>
<ellipse cx="446" cy="264.5" rx="27" ry="27" fill="none" stroke="#dedede" stroke-width="0.7" />
<ellipse cx="446" cy="264.5" rx="21" ry="21" fill="none" stroke="#e4e4e4" stroke-width="0.6" />
<path d="M476.5 264.5 L472.9 266.9 L476 269.8 L472.1 271.5 L474.7 274.9 L470.5 275.9 L472.4 279.8 L468.1 280 L469.4 284.1 L465.1 283.6 L465.6 287.9 L461.5 286.6 L461.2 290.9 L457.4 289 L456.4 293.2 L453 290.6 L451.3 294.5 L448.4 291.4 L446 295 L443.6 291.4 L440.7 294.5 L439 290.6 L435.6 293.2 L434.6 289 L430.8 290.9 L430.5 286.6 L426.4 287.9 L426.9 283.6 L422.6 284.1 L423.9 280 L419.6 279.8 L421.5 275.9 L417.3 274.9 L419.9 271.5 L416 269.8 L419.1 266.9 L415.5 264.5 L419.1 262.1 L416 259.2 L419.9 257.5 L417.3 254.1 L421.5 253.1 L419.6 249.2 L423.9 249 L422.6 244.9 L426.9 245.4 L426.4 241.1 L430.5 242.4 L430.8 238.1 L434.6 240 L435.6 235.8 L439 238.4 L440.7 234.5 L443.6 237.6 L446 234 L448.4 237.6 L451.3 234.5 L453 238.4 L456.4 235.8 L457.4 240 L461.2 238.1 L461.5 242.4 L465.6 241.1 L465.1 245.4 L469.4 244.9 L468.1 249 L472.4 249.2 L470.5 253.1 L474.7 254.1 L472.1 257.5 L476 259.2 L472.9 262.1Z" fill="none" stroke="#e0e0e0" stroke-width="0.6" />
</g>
</svg>
</body>
</html>
